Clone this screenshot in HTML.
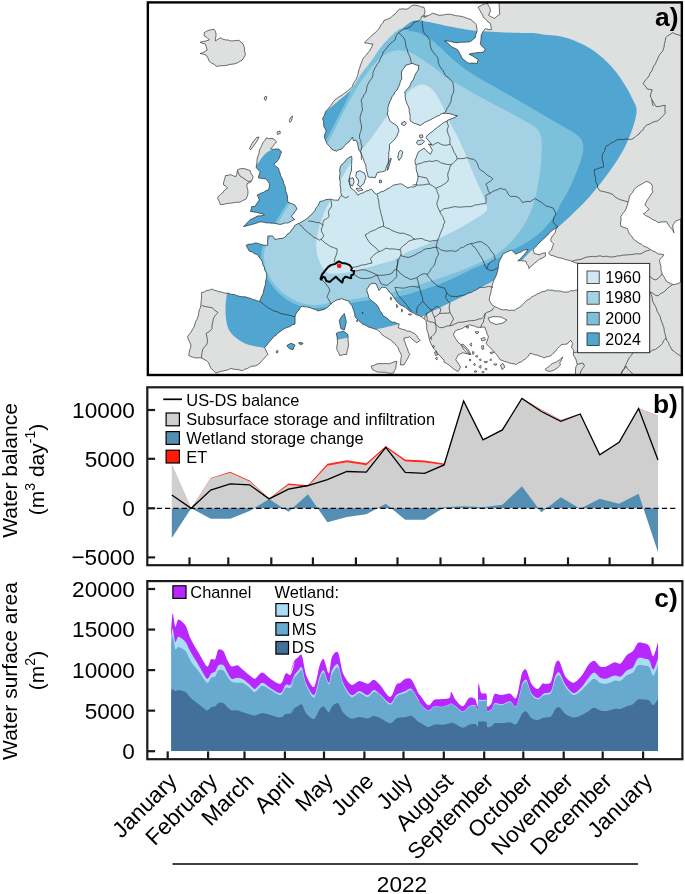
<!DOCTYPE html>
<html lang="en"><head><meta charset="utf-8"><title>Figure</title>
<style>
html,body{margin:0;padding:0;background:#fff;}
svg{display:block;}
text{font-family:"Liberation Sans",sans-serif;fill:#000;}
.tk{font-size:22.6px;}
.lg{font-size:16.4px;}
.pl{font-size:26.4px;font-weight:bold;}
.ax{stroke:#1a1a1a;stroke-width:2.2;fill:none;}
.bd{stroke:#222;stroke-width:0.65;fill:none;stroke-linejoin:round;}
</style></head><body>
<svg width="685" height="894" viewBox="0 0 685 894">
<rect width="685" height="894" fill="#fff"/>

<defs>
<clipPath id="frame"><rect x="148" y="2.4" width="534" height="372.6"/></clipPath>
<clipPath id="bl" clip-rule="evenodd"><path clip-rule="evenodd" d="M575.5,369.1 L576.0,366.6 L577.3,364.4 L576.5,362.1 L576.1,359.7 L574.8,357.2 L573.2,355.0 L573.8,350.4 L571.5,347.4 L572.6,343.4 L570.9,340.4 L568.9,341.9 L567.4,343.9 L564.5,344.3 L561.5,344.5 L559.2,346.9 L556.9,349.2 L555.2,351.6 L552.9,353.4 L551.0,355.6 L548.7,356.5 L546.2,356.9 L544.0,358.0 L541.8,356.6 L539.3,356.1 L537.0,355.0 L534.6,354.8 L532.4,353.8 L530.0,353.3 L528.2,356.2 L525.8,358.6 L523.5,360.2 L521.3,361.8 L518.6,362.7 L516.4,364.5 L514.1,363.8 L511.7,363.6 L509.4,363.0 L507.1,362.1 L504.7,361.5 L502.4,360.5 L500.1,359.8 L498.6,357.3 L496.9,354.9 L494.9,352.8 L493.1,350.5 L491.2,348.8 L489.6,347.0 L487.6,345.4 L486.1,343.4 L487.0,341.1 L487.8,338.8 L488.4,336.4 L487.2,334.2 L486.5,331.8 L485.6,329.5 L484.9,327.1 L482.2,327.1 L479.4,327.4 L476.7,327.1 L474.4,326.1 L472.0,325.5 L469.7,324.7 L467.3,325.8 L464.8,326.7 L462.7,328.3 L460.4,329.1 L458.0,329.7 L455.7,330.6 L453.4,334.1 L454.5,337.1 L456.3,339.6 L458.0,342.3 L460.3,344.2 L462.7,346.2 L465.0,348.1 L466.7,349.9 L468.2,352.0 L469.7,354.0 L466.2,353.6 L462.7,352.8 L460.3,353.8 L458.0,355.1 L456.9,357.5 L455.7,359.8 L457.4,362.1 L458.9,364.4 L460.4,366.8 L459.5,369.3 L458.0,371.5 L455.5,370.2 L453.2,368.6 L451.0,366.8 L448.9,364.9 L446.5,363.5 L444.0,362.1 L444.0,359.8 L442.0,358.3 L440.6,356.2 L438.7,354.6 L437.0,352.8 L435.6,350.3 L433.6,348.3 L432.2,345.9 L430.8,343.4 L429.8,341.0 L429.1,338.6 L428.7,336.0 L428.2,333.5 L427.3,331.1 L426.6,328.5 L426.8,325.8 L426.3,323.2 L426.1,320.5 L423.8,318.8 L421.5,317.0 L419.3,315.6 L416.7,315.0 L414.5,313.5 L412.1,312.3 L409.7,311.2 L407.6,309.4 L405.6,307.6 L403.3,306.3 L400.9,305.2 L398.8,303.6 L396.6,301.4 L394.8,298.8 L393.0,296.3 L391.4,293.9 L389.3,292.0 L387.8,289.5 L385.7,287.5 L382.0,287.0 L379.0,290.5 L377.5,287.0 L376.2,283.9 L372.5,283.2 L369.6,284.6 L368.5,287.0 L366.7,289.0 L367.2,292.0 L368.2,294.8 L368.9,297.7 L370.6,299.8 L372.7,301.6 L374.9,303.2 L376.9,305.0 L378.6,307.4 L379.6,310.3 L381.5,312.6 L382.8,315.3 L385.3,317.1 L387.9,318.8 L390.1,321.1 L392.3,322.2 L394.8,322.2 L397.0,323.4 L399.3,324.1 L398.1,327.6 L400.4,328.6 L402.7,329.4 L405.1,329.9 L407.3,331.2 L410.0,331.2 L412.1,332.6 L414.5,333.4 L416.6,335.6 L418.2,338.2 L420.3,340.4 L416.8,342.7 L414.3,341.0 L412.0,339.0 L409.8,336.9 L406.9,337.5 L403.9,338.1 L404.3,340.9 L405.5,343.5 L406.3,346.2 L407.6,348.9 L408.3,351.8 L409.8,354.4 L408.6,356.5 L407.6,358.7 L406.4,360.8 L405.1,362.8 L403.9,364.9 L400.4,364.9 L400.8,361.8 L400.9,358.7 L401.6,355.6 L400.4,352.9 L398.9,350.3 L398.1,347.4 L396.3,345.7 L394.9,343.6 L393.0,342.0 L391.1,340.4 L388.8,338.9 L386.4,337.6 L384.1,336.1 L381.8,334.6 L380.4,332.3 L378.4,330.6 L376.0,329.4 L373.4,328.5 L370.8,327.7 L368.2,326.9 L365.9,325.2 L363.1,324.4 L360.9,322.6 L358.9,320.7 L356.8,318.9 L355.0,316.7 L354.7,313.7 L353.8,310.8 L352.8,308.0 L351.9,305.6 L350.3,303.7 L349.2,301.4 L346.8,300.4 L344.2,299.7 L341.9,298.5 L339.0,299.5 L336.0,300.2 L333.4,301.9 L331.0,304.0 L329.2,305.9 L327.2,307.6 L325.0,309.0 L322.7,309.9 L320.3,310.3 L318.0,311.0 L315.5,309.5 L312.6,308.8 L310.0,307.5 L307.3,307.0 L304.6,306.9 L302.0,306.0 L300.1,307.8 L298.9,310.2 L297.0,312.0 L295.7,314.4 L295.0,317.0 L295.1,320.6 L295.0,324.1 L292.1,324.9 L289.7,326.7 L286.8,327.6 L284.2,328.7 L281.9,330.2 L279.8,331.9 L277.5,333.4 L276.0,335.4 L273.7,336.6 L272.3,338.7 L270.5,340.4 L268.6,342.8 L266.8,345.2 L264.6,347.4 L265.7,349.8 L266.7,352.2 L268.1,354.4 L265.6,356.6 L263.5,359.1 L261.6,361.1 L259.8,363.2 L257.6,364.9 L255.0,366.1 L252.0,366.1 L249.4,367.3 L247.1,368.6 L244.6,369.3 L242.4,370.8 L239.6,369.9 L236.6,369.4 L233.7,369.2 L230.8,368.4 L228.6,369.6 L226.2,370.3 L223.7,370.8 L220.9,371.4 L218.3,372.2 L215.6,373.1 L213.5,370.5 L210.9,368.4 L209.6,365.6 L208.6,362.6 L206.5,360.7 L204.0,359.4 L201.6,357.9 L198.6,357.8 L195.7,357.9 L193.3,357.4 L190.9,356.6 L188.7,355.6 L189.1,352.9 L189.5,350.3 L190.5,347.7 L191.0,345.1 L189.7,342.4 L188.6,339.7 L187.5,336.9 L189.0,334.5 L190.8,332.4 L192.2,329.9 L193.8,327.4 L194.8,324.8 L195.5,321.9 L196.9,319.4 L197.8,317.1 L198.5,314.8 L198.8,312.3 L199.3,309.9 L200.4,307.7 L200.9,304.6 L201.1,301.5 L201.6,298.4 L201.5,295.4 L201.6,292.5 L204.3,291.9 L206.7,290.4 L209.6,290.1 L212.1,289.0 L214.3,290.3 L216.8,290.8 L219.1,291.8 L221.8,292.1 L224.3,293.1 L227.0,293.1 L229.4,293.4 L231.6,294.5 L234.1,294.5 L236.4,295.4 L239.3,296.3 L242.2,296.8 L245.3,296.8 L248.1,297.8 L250.5,298.2 L252.7,299.5 L255.1,299.9 L257.3,300.9 L259.7,301.3 L260.7,298.5 L261.9,295.7 L263.3,293.1 L263.8,289.9 L264.6,286.9 L265.6,283.8 L265.6,281.0 L266.4,278.3 L266.8,275.6 L266.3,272.8 L264.8,270.2 L264.4,267.4 L262.9,264.8 L262.3,261.8 L260.9,259.2 L259.0,257.0 L257.4,254.6 L254.5,253.8 L252.1,251.9 L249.2,251.1 L247.6,248.2 L246.2,245.2 L249.1,244.1 L252.2,244.1 L255.1,242.9 L258.3,243.4 L261.3,244.6 L264.4,245.2 L267.9,245.2 L267.5,242.1 L267.8,239.0 L267.9,235.9 L272.6,235.9 L274.9,239.4 L277.6,238.9 L280.3,238.5 L283.1,238.2 L285.7,236.6 L287.5,234.0 L290.1,232.4 L291.5,230.0 L293.4,227.9 L294.8,225.4 L297.1,224.1 L299.5,223.2 L301.8,221.9 L304.3,220.4 L306.7,218.7 L308.9,216.8 L311.1,214.9 L313.1,212.7 L315.0,210.4 L316.2,207.7 L318.2,205.5 L320.0,201.3 L322.8,201.0 L325.4,199.8 L328.2,199.3 L330.8,199.2 L333.3,200.0 L335.8,200.1 L338.4,200.3 L339.6,197.5 L341.5,195.2 L340.8,192.5 L340.9,189.7 L340.4,187.0 L340.1,184.5 L340.3,181.9 L339.6,179.4 L339.4,176.8 L340.1,174.3 L339.8,171.7 L339.8,169.1 L340.4,166.6 L342.3,164.0 L344.7,162.0 L346.6,159.4 L349.0,157.5 L351.7,156.3 L352.0,159.0 L351.7,161.8 L351.7,164.5 L351.5,167.2 L351.5,170.0 L350.7,172.7 L349.9,175.4 L349.4,178.2 L348.6,180.9 L349.5,183.2 L350.1,185.6 L350.7,188.0 L353.4,189.9 L355.8,192.1 L357.8,195.2 L360.4,193.6 L363.4,192.7 L366.0,191.1 L368.7,190.5 L371.1,189.0 L372.9,190.7 L374.2,192.7 L376.2,194.2 L378.6,193.3 L380.7,191.9 L383.2,191.4 L385.4,190.1 L387.5,188.8 L389.7,187.9 L391.6,186.4 L393.6,185.0 L396.3,184.7 L399.0,183.9 L401.7,183.9 L403.7,185.3 L405.8,186.7 L407.9,188.0 L410.5,186.9 L413.4,187.0 L416.1,186.0 L416.5,182.9 L417.6,179.9 L418.1,176.8 L417.6,174.0 L416.6,171.4 L416.1,168.6 L416.2,165.8 L415.2,163.2 L415.0,160.4 L416.2,157.8 L417.1,155.0 L418.1,152.3 L420.1,150.9 L422.1,149.4 L424.2,148.2 L426.0,150.5 L428.2,152.4 L430.4,154.3 L432.4,150.2 L431.1,148.1 L430.0,145.9 L428.3,144.1 L431.8,144.5 L428.8,141.0 L426.0,137.5 L427.8,135.0 L430.0,133.0 L432.7,131.5 L434.8,129.3 L437.4,127.4 L440.0,125.5 L441.9,124.0 L443.8,122.5 L446.0,121.5 L448.9,119.8 L452.0,118.5 L454.9,117.4 L457.5,115.7 L454.9,115.4 L452.5,114.4 L450.0,113.8 L446.7,113.4 L443.4,113.1 L441.1,113.9 L439.2,115.6 L436.8,116.2 L434.7,117.4 L432.3,118.7 L429.9,120.0 L427.4,121.1 L424.8,122.4 L422.5,123.9 L420.1,125.5 L417.2,124.2 L414.2,123.3 L410.6,121.1 L410.0,118.7 L410.1,116.2 L409.9,113.8 L409.2,111.4 L409.2,108.9 L408.4,106.5 L407.1,104.2 L406.3,101.7 L405.5,99.2 L405.2,96.8 L405.2,94.3 L404.7,91.9 L406.5,90.0 L408.3,88.1 L409.9,86.1 L410.6,83.7 L411.9,81.6 L413.3,79.6 L414.2,77.3 L415.2,74.7 L416.6,72.2 L418.3,70.0 L418.8,65.4 L416.3,65.1 L414.0,64.0 L411.6,63.4 L408.6,64.4 L405.5,65.4 L404.4,67.7 L402.6,69.7 L401.5,72.0 L401.5,75.4 L401.8,78.8 L400.3,81.6 L399.6,84.7 L398.2,87.5 L397.1,89.9 L395.2,91.9 L394.0,94.3 L392.3,96.3 L391.1,99.2 L389.6,102.0 L388.7,105.0 L387.8,107.9 L388.1,110.9 L387.2,113.8 L388.2,116.2 L389.0,118.7 L390.1,121.1 L392.2,122.8 L394.5,124.0 L396.7,125.5 L398.2,128.3 L398.9,131.3 L397.7,133.7 L396.8,136.3 L395.3,138.6 L393.3,140.5 L391.4,142.6 L389.4,144.5 L389.5,148.2 L389.2,150.6 L388.7,153.0 L388.9,155.5 L388.5,157.9 L388.5,160.4 L388.1,163.1 L386.9,165.5 L386.0,168.1 L385.4,170.7 L382.8,171.7 L379.9,172.0 L377.2,172.7 L376.2,175.2 L375.2,177.8 L372.8,177.2 L370.4,177.4 L368.0,176.8 L367.7,174.2 L366.9,171.7 L366.2,169.2 L366.0,166.6 L365.5,164.1 L364.2,161.9 L363.6,159.4 L362.6,157.1 L361.6,154.7 L360.9,152.3 L358.8,150.1 L358.1,146.6 L357.6,143.1 L355.9,140.1 L353.5,140.7 L352.4,137.2 L350.7,139.6 L348.9,141.9 L346.7,143.6 L344.7,145.5 L343.0,147.7 L341.1,149.2 L338.6,149.8 L336.6,151.2 L333.9,150.3 L331.4,148.9 L330.1,146.8 L328.2,145.1 L326.7,143.1 L325.5,140.2 L324.3,137.2 L324.8,134.2 L326.1,131.4 L325.3,128.9 L323.8,126.7 L323.7,123.9 L323.4,121.2 L322.6,118.5 L323.8,116.3 L324.9,114.0 L325.5,111.5 L327.6,109.4 L329.4,107.0 L331.4,104.8 L332.9,102.2 L335.0,99.8 L337.5,97.9 L340.1,96.1 L342.5,94.9 L344.4,93.0 L346.8,91.7 L348.8,89.8 L351.0,88.3 L352.6,86.3 L353.1,83.7 L354.5,81.6 L356.0,79.5 L357.1,77.1 L357.9,74.6 L358.3,72.0 L359.0,69.5 L360.0,67.0 L360.7,64.4 L361.9,61.9 L362.6,59.3 L364.2,57.1 L366.2,55.2 L367.6,52.9 L369.7,51.1 L370.7,48.7 L372.0,46.4 L372.8,43.9 L370.0,43.9 L367.3,43.2 L364.6,42.9 L366.4,40.6 L368.6,38.7 L370.7,36.8 L372.6,34.6 L375.0,32.9 L377.0,30.8 L378.9,28.6 L380.2,26.6 L381.3,24.4 L383.0,22.6 L384.0,20.4 L386.5,19.6 L388.9,18.6 L391.2,17.4 L393.1,15.2 L395.6,13.6 L397.3,11.2 L399.4,9.2 L402.9,8.9 L406.5,9.2 L409.0,8.1 L411.1,6.1 L413.7,5.1 L418.0,5.5 L420.8,6.8 L423.9,7.2 L424.7,9.5 L425.0,12.0 L424.1,14.6 L424.0,17.4 L427.0,16.0 L429.8,14.9 L432.3,13.3 L435.0,13.8 L437.6,15.0 L440.4,15.3 L443.0,15.0 L445.5,14.4 L448.1,14.3 L450.7,14.3 L453.2,15.0 L455.7,15.7 L458.3,15.9 L460.9,16.3 L463.5,16.9 L466.0,17.9 L468.5,18.8 L471.1,19.4 L472.5,21.4 L474.6,22.7 L476.2,24.5 L476.7,27.6 L477.2,30.7 L476.3,33.0 L475.6,35.4 L475.2,37.8 L473.2,39.3 L471.3,40.9 L469.0,41.9 L466.6,42.1 L464.1,42.2 L461.7,42.2 L459.2,42.4 L456.8,42.9 L454.4,42.4 L451.9,41.9 L449.5,41.3 L447.0,40.9 L444.5,40.9 L446.8,42.3 L448.8,44.1 L450.7,46.0 L452.9,47.6 L455.6,48.5 L457.8,50.1 L459.3,52.7 L460.8,55.3 L461.9,58.2 L464.2,60.0 L466.5,61.9 L469.0,63.4 L471.7,63.0 L474.5,63.3 L477.2,63.4 L478.2,59.3 L475.5,58.0 L473.1,56.2 L469.0,54.2 L472.0,53.3 L475.2,53.1 L477.9,52.5 L480.7,52.4 L483.4,52.1 L485.4,49.0 L483.4,47.6 L481.7,45.9 L480.3,43.9 L480.9,40.9 L481.0,37.8 L481.3,34.7 L482.5,32.5 L483.8,30.5 L485.4,28.6 L488.4,29.5 L491.5,29.6 L491.0,26.5 L490.5,23.5 L487.9,21.8 L485.8,19.4 L483.4,17.4 L482.5,14.7 L480.9,12.2 L479.5,9.7 L478.2,7.2 L480.6,5.8 L483.0,4.5 L487.4,3.0 L488.3,5.5 L489.8,7.7 L490.5,10.2 L489.8,12.9 L488.5,15.3 L491.5,16.9 L494.6,18.4 L497.0,16.2 L499.7,14.3 L499,2 L683,2 L683,376 L575.5,376 Z M266.4,137.8 L268.7,138.5 L271.2,138.6 L273.6,138.8 L276.6,141.9 L274.5,144.2 L272.6,146.7 L270.5,149.0 L273.2,149.3 L276.0,149.0 L278.7,149.0 L281.7,152.1 L280.4,154.4 L279.7,156.9 L278.7,159.3 L277.2,161.2 L275.5,162.9 L273.6,164.4 L276.2,166.4 L278.7,168.5 L279.1,170.9 L280.1,173.1 L280.6,175.5 L281.7,177.7 L283.0,180.3 L283.6,183.2 L284.8,185.8 L285.6,188.5 L285.8,191.4 L286.9,194.0 L287.5,196.7 L287.6,199.5 L287.9,202.2 L290.3,203.1 L292.7,204.1 L295.0,205.2 L297.1,209.0 L295.1,211.3 L293.4,213.8 L291.3,216.0 L292.8,218.0 L294.8,219.5 L292.4,220.5 L290.1,221.8 L287.8,223.0 L284.6,223.0 L281.6,224.2 L278.4,224.2 L275.4,223.4 L272.2,223.2 L269.1,223.0 L265.9,222.8 L262.9,222.1 L259.7,221.9 L257.4,222.8 L255.1,223.6 L252.7,224.2 L249.6,225.0 L246.6,225.9 L243.4,226.5 L245.3,224.9 L246.9,223.0 L248.6,221.2 L250.4,219.5 L252.8,218.5 L255.2,217.3 L257.4,216.0 L261.0,215.8 L264.4,214.9 L262.2,213.7 L259.7,213.3 L257.4,212.5 L253.9,212.0 L250.4,211.4 L251.2,209.1 L251.6,206.7 L255.2,206.3 L256.4,204.1 L257.9,202.1 L259.3,200.1 L258.4,197.5 L257.2,195.0 L261.3,193.0 L263.8,192.2 L266.0,190.6 L268.5,189.9 L269.4,186.9 L269.5,183.8 L267.7,181.1 L265.4,178.7 L263.0,178.6 L260.6,178.3 L258.2,177.7 L259.2,174.6 L260.3,171.5 L258.0,169.7 L256.2,167.4 L256.6,164.3 L257.0,161.3 L257.2,158.2 L258.0,155.9 L259.0,153.6 L259.3,151.1 L260.2,148.6 L261.4,146.4 L262.3,143.9 L263.6,141.8 L265.2,140.0Z M344.4,313.5 L346.3,321.7 L344.4,329.9 L340.9,328.7 L339.2,320.5 L342.0,315.9Z M336.2,333.4 L338.4,332.3 L340.9,331.9 L343.2,331.1 L345.7,332.6 L347.9,334.6 L348.1,337.2 L348.0,339.9 L348.4,342.5 L348.6,345.1 L348.0,348.2 L347.1,351.2 L346.7,354.4 L343.2,354.7 L339.7,355.6 L338.5,352.5 L336.9,349.7 L336.7,346.6 L337.5,343.5 L337.4,340.4 L337.1,336.9Z M286.8,345.5 L291.0,343.2 L295.0,345.0 L293.0,349.7 L289.0,348.5Z M298.5,343.0 L301.0,342.3 L303.2,343.6 L300.5,344.8Z M356.5,172.0 L360.0,170.7 L362.2,172.0 L364.5,173.0 L365.3,175.5 L366.0,178.0 L364.7,180.7 L364.0,183.5 L362.0,185.0 L360.5,187.0 L357.5,185.0 L358.4,182.6 L358.5,180.0 L355.8,176.5Z M349.5,178.5 L353.0,177.8 L354.2,182.0 L352.5,185.8 L349.8,184.5Z M356.0,188.5 L361.0,188.0 L363.0,190.0 L358.0,191.2Z M400.5,150.2 L402.8,152.0 L401.5,157.0 L399.0,160.4 L397.7,157.0 L398.8,152.5Z M390.5,158.0 L391.3,158.5 L388.2,169.0 L387.2,170.5 L388.3,164.0Z M379.3,180.0 L381.3,180.2 L381.5,182.5 L379.6,182.8Z M417.5,140.8 L422.0,139.8 L424.5,141.5 L422.0,144.0 L418.5,144.8 L416.5,143.0Z M419.5,135.2 L422.5,134.8 L423.0,137.3 L420.0,138.0Z M402.0,122.5 L405.0,121.5 L406.5,123.5 L404.0,125.5 L401.5,124.5Z M506.6,252.1 L509.1,251.0 L511.7,250.1 L513.7,252.2 L515.8,254.2 L518.5,252.8 L521.4,251.8 L523.9,250.1 L528.0,249.5 L526.2,252.3 L523.9,254.8 L521.9,256.9 L520.1,259.1 L517.8,260.9 L520.6,260.6 L523.3,260.9 L526.0,261.3 L526.7,263.8 L528.4,265.9 L529.0,268.5 L530.5,266.5 L532.6,265.2 L534.2,263.4 L536.9,261.5 L539.3,259.3 L542.5,258.0 L545.4,256.2 L545.4,252.7 L542.2,253.4 L539.3,254.8 L536.8,254.1 L534.2,253.5 L533.1,249.0 L535.4,247.3 L537.2,245.0 L539.3,242.9 L541.3,240.9 L543.5,239.0 L545.5,236.9 L547.7,235.0 L549.5,232.7 L551.5,231.1 L553.4,229.4 L555.7,228.2 L557.7,226.6 L556.0,229.1 L555.3,232.2 L553.6,234.7 L551.8,237.1 L550.5,239.9 L551.8,242.1 L553.6,243.9 L552.4,246.9 L551.5,250.1 L548.5,252.7 L550.5,255.2 L553.4,255.8 L556.1,256.8 L558.9,257.8 L561.8,258.2 L564.3,259.1 L566.8,259.9 L569.5,260.4 L572.0,261.3 L574.9,262.7 L578.1,263.4 L580.6,264.1 L582.8,265.5 L585.1,266.5 L587.5,267.5 L590.0,268.0 L592.3,269.3 L594.0,271.2 L596.2,272.6 L598.1,274.2 L600.0,276.0 L601.6,277.9 L603.3,279.8 L604.7,281.9 L606.0,284.0 L604.1,285.8 L602.2,287.5 L600.0,289.0 L597.5,289.7 L595.0,290.0 L592.5,290.2 L590.0,290.5 L587.0,290.3 L584.0,290.3 L581.1,290.0 L578.1,289.9 L575.6,290.2 L573.2,290.9 L570.6,290.7 L568.3,292.0 L565.8,292.0 L563.1,292.0 L560.4,291.0 L557.7,290.9 L555.1,291.0 L552.6,290.1 L550.0,290.2 L547.4,289.9 L545.0,291.3 L542.2,291.7 L539.7,293.0 L537.2,294.0 L534.6,295.5 L531.9,296.8 L529.7,298.9 L527.0,300.1 L525.0,302.2 L523.0,304.3 L520.9,306.3 L518.8,307.7 L516.6,308.7 L514.7,310.4 L511.8,310.1 L508.9,310.4 L506.1,309.6 L503.2,309.9 L500.4,309.3 L497.7,307.9 L494.9,306.7 L492.3,305.2 L490.7,302.7 L489.2,300.1 L489.5,297.5 L490.1,295.0 L491.0,292.5 L491.2,289.9 L491.9,287.2 L492.4,284.4 L493.3,281.8 L494.3,279.2 L495.6,276.8 L496.6,274.2 L497.4,271.5 L498.0,269.0 L498.5,266.4 L498.6,263.8 L499.4,261.3 L500.5,258.9 L501.8,256.7 L502.5,254.2Z M488.0,318.0 L494.0,316.5 L501.0,317.0 L507.0,320.0 L503.0,323.0 L496.0,324.5 L490.0,322.0Z M646.3,181.4 L649.0,182.3 L651.4,183.9 L652.3,186.5 L652.1,189.3 L652.9,191.9 L651.1,194.3 L649.6,196.8 L647.8,199.2 L646.2,202.0 L644.9,205.0 L646.9,207.3 L649.2,209.4 L647.1,210.7 L645.5,212.5 L643.4,213.8 L645.6,215.6 L648.3,216.7 L650.7,218.2 L653.0,219.8 L655.8,220.8 L658.0,222.6 L660.9,222.0 L663.8,221.8 L666.8,221.8 L668.0,224.1 L669.3,226.4 L671.1,228.4 L672.9,230.4 L674.0,232.8 L673.4,230.4 L672.9,228.0 L672.6,225.5 L674.1,223.3 L675.5,221.1 L678.1,220.2 L680.6,218.9 L680.6,282.4 L678.0,283.5 L675.4,284.3 L672.6,284.6 L670.5,283.3 L668.1,282.3 L666.0,280.9 L665.0,278.7 L663.8,276.5 L662.4,274.5 L661.6,272.2 L660.9,269.3 L660.9,266.3 L660.1,263.4 L659.5,260.5 L660.7,258.4 L662.6,256.8 L663.8,254.7 L660.9,254.1 L658.0,253.9 L655.8,252.1 L653.1,251.2 L650.7,249.6 L648.4,248.2 L646.0,246.9 L643.4,245.9 L641.3,244.2 L639.0,243.1 L636.8,241.6 L634.6,240.1 L632.8,238.2 L631.5,235.9 L629.5,234.2 L628.4,231.3 L627.3,228.4 L624.0,227.5 L620.8,226.2 L620.4,223.0 L621.1,219.9 L620.8,216.7 L622.1,214.7 L623.4,212.6 L625.1,210.9 L626.4,208.1 L627.4,205.1 L628.1,202.1 L628.9,199.7 L629.2,197.1 L630.3,194.8 L632.5,192.5 L634.0,189.8 L636.1,187.5 L638.4,185.8 L641.0,184.5 L643.4,183.1Z"/></clipPath>
</defs>
<g clip-path="url(#frame)">
<path d="M575.5,369.1 L576.0,366.6 L577.3,364.4 L576.5,362.1 L576.1,359.7 L574.8,357.2 L573.2,355.0 L573.8,350.4 L571.5,347.4 L572.6,343.4 L570.9,340.4 L568.9,341.9 L567.4,343.9 L564.5,344.3 L561.5,344.5 L559.2,346.9 L556.9,349.2 L555.2,351.6 L552.9,353.4 L551.0,355.6 L548.7,356.5 L546.2,356.9 L544.0,358.0 L541.8,356.6 L539.3,356.1 L537.0,355.0 L534.6,354.8 L532.4,353.8 L530.0,353.3 L528.2,356.2 L525.8,358.6 L523.5,360.2 L521.3,361.8 L518.6,362.7 L516.4,364.5 L514.1,363.8 L511.7,363.6 L509.4,363.0 L507.1,362.1 L504.7,361.5 L502.4,360.5 L500.1,359.8 L498.6,357.3 L496.9,354.9 L494.9,352.8 L493.1,350.5 L491.2,348.8 L489.6,347.0 L487.6,345.4 L486.1,343.4 L487.0,341.1 L487.8,338.8 L488.4,336.4 L487.2,334.2 L486.5,331.8 L485.6,329.5 L484.9,327.1 L482.2,327.1 L479.4,327.4 L476.7,327.1 L474.4,326.1 L472.0,325.5 L469.7,324.7 L467.3,325.8 L464.8,326.7 L462.7,328.3 L460.4,329.1 L458.0,329.7 L455.7,330.6 L453.4,334.1 L454.5,337.1 L456.3,339.6 L458.0,342.3 L460.3,344.2 L462.7,346.2 L465.0,348.1 L466.7,349.9 L468.2,352.0 L469.7,354.0 L466.2,353.6 L462.7,352.8 L460.3,353.8 L458.0,355.1 L456.9,357.5 L455.7,359.8 L457.4,362.1 L458.9,364.4 L460.4,366.8 L459.5,369.3 L458.0,371.5 L455.5,370.2 L453.2,368.6 L451.0,366.8 L448.9,364.9 L446.5,363.5 L444.0,362.1 L444.0,359.8 L442.0,358.3 L440.6,356.2 L438.7,354.6 L437.0,352.8 L435.6,350.3 L433.6,348.3 L432.2,345.9 L430.8,343.4 L429.8,341.0 L429.1,338.6 L428.7,336.0 L428.2,333.5 L427.3,331.1 L426.6,328.5 L426.8,325.8 L426.3,323.2 L426.1,320.5 L423.8,318.8 L421.5,317.0 L419.3,315.6 L416.7,315.0 L414.5,313.5 L412.1,312.3 L409.7,311.2 L407.6,309.4 L405.6,307.6 L403.3,306.3 L400.9,305.2 L398.8,303.6 L396.6,301.4 L394.8,298.8 L393.0,296.3 L391.4,293.9 L389.3,292.0 L387.8,289.5 L385.7,287.5 L382.0,287.0 L379.0,290.5 L377.5,287.0 L376.2,283.9 L372.5,283.2 L369.6,284.6 L368.5,287.0 L366.7,289.0 L367.2,292.0 L368.2,294.8 L368.9,297.7 L370.6,299.8 L372.7,301.6 L374.9,303.2 L376.9,305.0 L378.6,307.4 L379.6,310.3 L381.5,312.6 L382.8,315.3 L385.3,317.1 L387.9,318.8 L390.1,321.1 L392.3,322.2 L394.8,322.2 L397.0,323.4 L399.3,324.1 L398.1,327.6 L400.4,328.6 L402.7,329.4 L405.1,329.9 L407.3,331.2 L410.0,331.2 L412.1,332.6 L414.5,333.4 L416.6,335.6 L418.2,338.2 L420.3,340.4 L416.8,342.7 L414.3,341.0 L412.0,339.0 L409.8,336.9 L406.9,337.5 L403.9,338.1 L404.3,340.9 L405.5,343.5 L406.3,346.2 L407.6,348.9 L408.3,351.8 L409.8,354.4 L408.6,356.5 L407.6,358.7 L406.4,360.8 L405.1,362.8 L403.9,364.9 L400.4,364.9 L400.8,361.8 L400.9,358.7 L401.6,355.6 L400.4,352.9 L398.9,350.3 L398.1,347.4 L396.3,345.7 L394.9,343.6 L393.0,342.0 L391.1,340.4 L388.8,338.9 L386.4,337.6 L384.1,336.1 L381.8,334.6 L380.4,332.3 L378.4,330.6 L376.0,329.4 L373.4,328.5 L370.8,327.7 L368.2,326.9 L365.9,325.2 L363.1,324.4 L360.9,322.6 L358.9,320.7 L356.8,318.9 L355.0,316.7 L354.7,313.7 L353.8,310.8 L352.8,308.0 L351.9,305.6 L350.3,303.7 L349.2,301.4 L346.8,300.4 L344.2,299.7 L341.9,298.5 L339.0,299.5 L336.0,300.2 L333.4,301.9 L331.0,304.0 L329.2,305.9 L327.2,307.6 L325.0,309.0 L322.7,309.9 L320.3,310.3 L318.0,311.0 L315.5,309.5 L312.6,308.8 L310.0,307.5 L307.3,307.0 L304.6,306.9 L302.0,306.0 L300.1,307.8 L298.9,310.2 L297.0,312.0 L295.7,314.4 L295.0,317.0 L295.1,320.6 L295.0,324.1 L292.1,324.9 L289.7,326.7 L286.8,327.6 L284.2,328.7 L281.9,330.2 L279.8,331.9 L277.5,333.4 L276.0,335.4 L273.7,336.6 L272.3,338.7 L270.5,340.4 L268.6,342.8 L266.8,345.2 L264.6,347.4 L265.7,349.8 L266.7,352.2 L268.1,354.4 L265.6,356.6 L263.5,359.1 L261.6,361.1 L259.8,363.2 L257.6,364.9 L255.0,366.1 L252.0,366.1 L249.4,367.3 L247.1,368.6 L244.6,369.3 L242.4,370.8 L239.6,369.9 L236.6,369.4 L233.7,369.2 L230.8,368.4 L228.6,369.6 L226.2,370.3 L223.7,370.8 L220.9,371.4 L218.3,372.2 L215.6,373.1 L213.5,370.5 L210.9,368.4 L209.6,365.6 L208.6,362.6 L206.5,360.7 L204.0,359.4 L201.6,357.9 L198.6,357.8 L195.7,357.9 L193.3,357.4 L190.9,356.6 L188.7,355.6 L189.1,352.9 L189.5,350.3 L190.5,347.7 L191.0,345.1 L189.7,342.4 L188.6,339.7 L187.5,336.9 L189.0,334.5 L190.8,332.4 L192.2,329.9 L193.8,327.4 L194.8,324.8 L195.5,321.9 L196.9,319.4 L197.8,317.1 L198.5,314.8 L198.8,312.3 L199.3,309.9 L200.4,307.7 L200.9,304.6 L201.1,301.5 L201.6,298.4 L201.5,295.4 L201.6,292.5 L204.3,291.9 L206.7,290.4 L209.6,290.1 L212.1,289.0 L214.3,290.3 L216.8,290.8 L219.1,291.8 L221.8,292.1 L224.3,293.1 L227.0,293.1 L229.4,293.4 L231.6,294.5 L234.1,294.5 L236.4,295.4 L239.3,296.3 L242.2,296.8 L245.3,296.8 L248.1,297.8 L250.5,298.2 L252.7,299.5 L255.1,299.9 L257.3,300.9 L259.7,301.3 L260.7,298.5 L261.9,295.7 L263.3,293.1 L263.8,289.9 L264.6,286.9 L265.6,283.8 L265.6,281.0 L266.4,278.3 L266.8,275.6 L266.3,272.8 L264.8,270.2 L264.4,267.4 L262.9,264.8 L262.3,261.8 L260.9,259.2 L259.0,257.0 L257.4,254.6 L254.5,253.8 L252.1,251.9 L249.2,251.1 L247.6,248.2 L246.2,245.2 L249.1,244.1 L252.2,244.1 L255.1,242.9 L258.3,243.4 L261.3,244.6 L264.4,245.2 L267.9,245.2 L267.5,242.1 L267.8,239.0 L267.9,235.9 L272.6,235.9 L274.9,239.4 L277.6,238.9 L280.3,238.5 L283.1,238.2 L285.7,236.6 L287.5,234.0 L290.1,232.4 L291.5,230.0 L293.4,227.9 L294.8,225.4 L297.1,224.1 L299.5,223.2 L301.8,221.9 L304.3,220.4 L306.7,218.7 L308.9,216.8 L311.1,214.9 L313.1,212.7 L315.0,210.4 L316.2,207.7 L318.2,205.5 L320.0,201.3 L322.8,201.0 L325.4,199.8 L328.2,199.3 L330.8,199.2 L333.3,200.0 L335.8,200.1 L338.4,200.3 L339.6,197.5 L341.5,195.2 L340.8,192.5 L340.9,189.7 L340.4,187.0 L340.1,184.5 L340.3,181.9 L339.6,179.4 L339.4,176.8 L340.1,174.3 L339.8,171.7 L339.8,169.1 L340.4,166.6 L342.3,164.0 L344.7,162.0 L346.6,159.4 L349.0,157.5 L351.7,156.3 L352.0,159.0 L351.7,161.8 L351.7,164.5 L351.5,167.2 L351.5,170.0 L350.7,172.7 L349.9,175.4 L349.4,178.2 L348.6,180.9 L349.5,183.2 L350.1,185.6 L350.7,188.0 L353.4,189.9 L355.8,192.1 L357.8,195.2 L360.4,193.6 L363.4,192.7 L366.0,191.1 L368.7,190.5 L371.1,189.0 L372.9,190.7 L374.2,192.7 L376.2,194.2 L378.6,193.3 L380.7,191.9 L383.2,191.4 L385.4,190.1 L387.5,188.8 L389.7,187.9 L391.6,186.4 L393.6,185.0 L396.3,184.7 L399.0,183.9 L401.7,183.9 L403.7,185.3 L405.8,186.7 L407.9,188.0 L410.5,186.9 L413.4,187.0 L416.1,186.0 L416.5,182.9 L417.6,179.9 L418.1,176.8 L417.6,174.0 L416.6,171.4 L416.1,168.6 L416.2,165.8 L415.2,163.2 L415.0,160.4 L416.2,157.8 L417.1,155.0 L418.1,152.3 L420.1,150.9 L422.1,149.4 L424.2,148.2 L426.0,150.5 L428.2,152.4 L430.4,154.3 L432.4,150.2 L431.1,148.1 L430.0,145.9 L428.3,144.1 L431.8,144.5 L428.8,141.0 L426.0,137.5 L427.8,135.0 L430.0,133.0 L432.7,131.5 L434.8,129.3 L437.4,127.4 L440.0,125.5 L441.9,124.0 L443.8,122.5 L446.0,121.5 L448.9,119.8 L452.0,118.5 L454.9,117.4 L457.5,115.7 L454.9,115.4 L452.5,114.4 L450.0,113.8 L446.7,113.4 L443.4,113.1 L441.1,113.9 L439.2,115.6 L436.8,116.2 L434.7,117.4 L432.3,118.7 L429.9,120.0 L427.4,121.1 L424.8,122.4 L422.5,123.9 L420.1,125.5 L417.2,124.2 L414.2,123.3 L410.6,121.1 L410.0,118.7 L410.1,116.2 L409.9,113.8 L409.2,111.4 L409.2,108.9 L408.4,106.5 L407.1,104.2 L406.3,101.7 L405.5,99.2 L405.2,96.8 L405.2,94.3 L404.7,91.9 L406.5,90.0 L408.3,88.1 L409.9,86.1 L410.6,83.7 L411.9,81.6 L413.3,79.6 L414.2,77.3 L415.2,74.7 L416.6,72.2 L418.3,70.0 L418.8,65.4 L416.3,65.1 L414.0,64.0 L411.6,63.4 L408.6,64.4 L405.5,65.4 L404.4,67.7 L402.6,69.7 L401.5,72.0 L401.5,75.4 L401.8,78.8 L400.3,81.6 L399.6,84.7 L398.2,87.5 L397.1,89.9 L395.2,91.9 L394.0,94.3 L392.3,96.3 L391.1,99.2 L389.6,102.0 L388.7,105.0 L387.8,107.9 L388.1,110.9 L387.2,113.8 L388.2,116.2 L389.0,118.7 L390.1,121.1 L392.2,122.8 L394.5,124.0 L396.7,125.5 L398.2,128.3 L398.9,131.3 L397.7,133.7 L396.8,136.3 L395.3,138.6 L393.3,140.5 L391.4,142.6 L389.4,144.5 L389.5,148.2 L389.2,150.6 L388.7,153.0 L388.9,155.5 L388.5,157.9 L388.5,160.4 L388.1,163.1 L386.9,165.5 L386.0,168.1 L385.4,170.7 L382.8,171.7 L379.9,172.0 L377.2,172.7 L376.2,175.2 L375.2,177.8 L372.8,177.2 L370.4,177.4 L368.0,176.8 L367.7,174.2 L366.9,171.7 L366.2,169.2 L366.0,166.6 L365.5,164.1 L364.2,161.9 L363.6,159.4 L362.6,157.1 L361.6,154.7 L360.9,152.3 L358.8,150.1 L358.1,146.6 L357.6,143.1 L355.9,140.1 L353.5,140.7 L352.4,137.2 L350.7,139.6 L348.9,141.9 L346.7,143.6 L344.7,145.5 L343.0,147.7 L341.1,149.2 L338.6,149.8 L336.6,151.2 L333.9,150.3 L331.4,148.9 L330.1,146.8 L328.2,145.1 L326.7,143.1 L325.5,140.2 L324.3,137.2 L324.8,134.2 L326.1,131.4 L325.3,128.9 L323.8,126.7 L323.7,123.9 L323.4,121.2 L322.6,118.5 L323.8,116.3 L324.9,114.0 L325.5,111.5 L327.6,109.4 L329.4,107.0 L331.4,104.8 L332.9,102.2 L335.0,99.8 L337.5,97.9 L340.1,96.1 L342.5,94.9 L344.4,93.0 L346.8,91.7 L348.8,89.8 L351.0,88.3 L352.6,86.3 L353.1,83.7 L354.5,81.6 L356.0,79.5 L357.1,77.1 L357.9,74.6 L358.3,72.0 L359.0,69.5 L360.0,67.0 L360.7,64.4 L361.9,61.9 L362.6,59.3 L364.2,57.1 L366.2,55.2 L367.6,52.9 L369.7,51.1 L370.7,48.7 L372.0,46.4 L372.8,43.9 L370.0,43.9 L367.3,43.2 L364.6,42.9 L366.4,40.6 L368.6,38.7 L370.7,36.8 L372.6,34.6 L375.0,32.9 L377.0,30.8 L378.9,28.6 L380.2,26.6 L381.3,24.4 L383.0,22.6 L384.0,20.4 L386.5,19.6 L388.9,18.6 L391.2,17.4 L393.1,15.2 L395.6,13.6 L397.3,11.2 L399.4,9.2 L402.9,8.9 L406.5,9.2 L409.0,8.1 L411.1,6.1 L413.7,5.1 L418.0,5.5 L420.8,6.8 L423.9,7.2 L424.7,9.5 L425.0,12.0 L424.1,14.6 L424.0,17.4 L427.0,16.0 L429.8,14.9 L432.3,13.3 L435.0,13.8 L437.6,15.0 L440.4,15.3 L443.0,15.0 L445.5,14.4 L448.1,14.3 L450.7,14.3 L453.2,15.0 L455.7,15.7 L458.3,15.9 L460.9,16.3 L463.5,16.9 L466.0,17.9 L468.5,18.8 L471.1,19.4 L472.5,21.4 L474.6,22.7 L476.2,24.5 L476.7,27.6 L477.2,30.7 L476.3,33.0 L475.6,35.4 L475.2,37.8 L473.2,39.3 L471.3,40.9 L469.0,41.9 L466.6,42.1 L464.1,42.2 L461.7,42.2 L459.2,42.4 L456.8,42.9 L454.4,42.4 L451.9,41.9 L449.5,41.3 L447.0,40.9 L444.5,40.9 L446.8,42.3 L448.8,44.1 L450.7,46.0 L452.9,47.6 L455.6,48.5 L457.8,50.1 L459.3,52.7 L460.8,55.3 L461.9,58.2 L464.2,60.0 L466.5,61.9 L469.0,63.4 L471.7,63.0 L474.5,63.3 L477.2,63.4 L478.2,59.3 L475.5,58.0 L473.1,56.2 L469.0,54.2 L472.0,53.3 L475.2,53.1 L477.9,52.5 L480.7,52.4 L483.4,52.1 L485.4,49.0 L483.4,47.6 L481.7,45.9 L480.3,43.9 L480.9,40.9 L481.0,37.8 L481.3,34.7 L482.5,32.5 L483.8,30.5 L485.4,28.6 L488.4,29.5 L491.5,29.6 L491.0,26.5 L490.5,23.5 L487.9,21.8 L485.8,19.4 L483.4,17.4 L482.5,14.7 L480.9,12.2 L479.5,9.7 L478.2,7.2 L480.6,5.8 L483.0,4.5 L487.4,3.0 L488.3,5.5 L489.8,7.7 L490.5,10.2 L489.8,12.9 L488.5,15.3 L491.5,16.9 L494.6,18.4 L497.0,16.2 L499.7,14.3 L499,2 L683,2 L683,376 L575.5,376 Z M266.4,137.8 L268.7,138.5 L271.2,138.6 L273.6,138.8 L276.6,141.9 L274.5,144.2 L272.6,146.7 L270.5,149.0 L273.2,149.3 L276.0,149.0 L278.7,149.0 L281.7,152.1 L280.4,154.4 L279.7,156.9 L278.7,159.3 L277.2,161.2 L275.5,162.9 L273.6,164.4 L276.2,166.4 L278.7,168.5 L279.1,170.9 L280.1,173.1 L280.6,175.5 L281.7,177.7 L283.0,180.3 L283.6,183.2 L284.8,185.8 L285.6,188.5 L285.8,191.4 L286.9,194.0 L287.5,196.7 L287.6,199.5 L287.9,202.2 L290.3,203.1 L292.7,204.1 L295.0,205.2 L297.1,209.0 L295.1,211.3 L293.4,213.8 L291.3,216.0 L292.8,218.0 L294.8,219.5 L292.4,220.5 L290.1,221.8 L287.8,223.0 L284.6,223.0 L281.6,224.2 L278.4,224.2 L275.4,223.4 L272.2,223.2 L269.1,223.0 L265.9,222.8 L262.9,222.1 L259.7,221.9 L257.4,222.8 L255.1,223.6 L252.7,224.2 L249.6,225.0 L246.6,225.9 L243.4,226.5 L245.3,224.9 L246.9,223.0 L248.6,221.2 L250.4,219.5 L252.8,218.5 L255.2,217.3 L257.4,216.0 L261.0,215.8 L264.4,214.9 L262.2,213.7 L259.7,213.3 L257.4,212.5 L253.9,212.0 L250.4,211.4 L251.2,209.1 L251.6,206.7 L255.2,206.3 L256.4,204.1 L257.9,202.1 L259.3,200.1 L258.4,197.5 L257.2,195.0 L261.3,193.0 L263.8,192.2 L266.0,190.6 L268.5,189.9 L269.4,186.9 L269.5,183.8 L267.7,181.1 L265.4,178.7 L263.0,178.6 L260.6,178.3 L258.2,177.7 L259.2,174.6 L260.3,171.5 L258.0,169.7 L256.2,167.4 L256.6,164.3 L257.0,161.3 L257.2,158.2 L258.0,155.9 L259.0,153.6 L259.3,151.1 L260.2,148.6 L261.4,146.4 L262.3,143.9 L263.6,141.8 L265.2,140.0Z M344.4,313.5 L346.3,321.7 L344.4,329.9 L340.9,328.7 L339.2,320.5 L342.0,315.9Z M336.2,333.4 L338.4,332.3 L340.9,331.9 L343.2,331.1 L345.7,332.6 L347.9,334.6 L348.1,337.2 L348.0,339.9 L348.4,342.5 L348.6,345.1 L348.0,348.2 L347.1,351.2 L346.7,354.4 L343.2,354.7 L339.7,355.6 L338.5,352.5 L336.9,349.7 L336.7,346.6 L337.5,343.5 L337.4,340.4 L337.1,336.9Z M286.8,345.5 L291.0,343.2 L295.0,345.0 L293.0,349.7 L289.0,348.5Z M298.5,343.0 L301.0,342.3 L303.2,343.6 L300.5,344.8Z M356.5,172.0 L360.0,170.7 L362.2,172.0 L364.5,173.0 L365.3,175.5 L366.0,178.0 L364.7,180.7 L364.0,183.5 L362.0,185.0 L360.5,187.0 L357.5,185.0 L358.4,182.6 L358.5,180.0 L355.8,176.5Z M349.5,178.5 L353.0,177.8 L354.2,182.0 L352.5,185.8 L349.8,184.5Z M356.0,188.5 L361.0,188.0 L363.0,190.0 L358.0,191.2Z M400.5,150.2 L402.8,152.0 L401.5,157.0 L399.0,160.4 L397.7,157.0 L398.8,152.5Z M390.5,158.0 L391.3,158.5 L388.2,169.0 L387.2,170.5 L388.3,164.0Z M379.3,180.0 L381.3,180.2 L381.5,182.5 L379.6,182.8Z M417.5,140.8 L422.0,139.8 L424.5,141.5 L422.0,144.0 L418.5,144.8 L416.5,143.0Z M419.5,135.2 L422.5,134.8 L423.0,137.3 L420.0,138.0Z M402.0,122.5 L405.0,121.5 L406.5,123.5 L404.0,125.5 L401.5,124.5Z M225.5,175.6 L228.1,175.3 L230.7,174.6 L233.2,175.8 L235.8,176.6 L236.8,174.3 L237.1,171.9 L237.8,169.5 L240.8,168.7 L243.9,168.5 L247.0,169.6 L250.1,170.5 L251.2,173.7 L253.1,176.6 L252.3,179.3 L251.1,181.8 L247.0,183.8 L246.9,186.6 L247.7,189.3 L248.0,192.0 L247.8,194.5 L247.0,196.8 L246.0,199.1 L242.9,200.5 L239.9,202.2 L236.8,202.2 L233.7,202.7 L230.7,203.2 L228.1,203.3 L225.5,203.8 L223.0,204.5 L220.4,204.6 L219.2,201.2 L217.4,198.1 L218.8,196.1 L220.5,194.4 L222.5,193.0 L223.9,191.0 L225.6,189.3 L227.6,187.9 L225.7,186.2 L223.5,184.8 L223.6,182.2 L224.5,179.7Z M204.2,32.7 L206.6,31.2 L209.3,30.2 L211.7,29.7 L214.0,29.2 L215.4,31.3 L216.0,33.7 L216.0,36.1 L215.4,38.5 L215.4,40.9 L217.9,39.3 L220.5,37.8 L222.9,39.2 L225.6,39.9 L228.2,40.0 L230.7,40.9 L233.4,40.8 L236.2,40.5 L238.9,40.3 L241.0,42.1 L243.0,43.9 L244.0,46.4 L244.5,49.0 L244.7,51.7 L245.5,54.2 L244.0,57.4 L242.0,60.3 L239.6,61.5 L237.3,62.9 L234.8,63.8 L232.1,64.2 L229.3,64.5 L226.7,65.4 L224.1,65.6 L221.5,65.8 L219.0,65.9 L216.4,66.4 L214.3,64.4 L211.6,63.1 L209.3,61.3 L208.0,58.1 L206.2,55.2 L203.2,54.1 L200.1,53.5 L202.6,52.7 L205.0,51.5 L207.2,50.1 L206.3,47.0 L205.2,43.9 L202.6,43.3 L200.1,42.3 L203.2,41.5 L206.3,40.9 L209.3,39.9 L207.0,37.6 L204.2,35.8Z M256.5,137.5 L259.0,137.0 L257.0,141.0 L253.5,146.0 L250.5,150.0 L249.5,148.5 L252.0,143.5Z M371.2,366.1 L374.3,365.3 L377.1,363.8 L380.0,363.6 L383.0,363.7 L385.9,363.5 L388.8,363.8 L391.5,362.9 L394.1,361.8 L396.9,361.4 L396.1,364.9 L395.8,368.4 L394.5,370.7 L393.4,373.1 L390.7,373.3 L387.9,373.0 L385.3,372.3 L382.5,372.2 L379.8,372.1 L377.1,372.0 L374.8,370.7 L372.4,369.6Z M276.3,351.0 L278.0,350.5 L277.8,352.5 L276.5,353.0Z M545.2,369.1 L547.3,367.7 L549.3,366.2 L551.0,364.4 L553.3,363.2 L555.8,362.4 L558.0,360.9 L560.6,359.2 L562.7,356.8 L561.6,359.9 L559.8,362.6 L560.4,365.0 L558.2,367.2 L555.7,369.1 L553.0,370.6 L549.9,371.4 L546.4,370.8Z M264.5,97.0 L266.5,96.2 L266.8,98.0 L265.6,100.5 L264.3,99.5Z M290.5,117.5 L292.5,116.0 L291.8,120.0 L290.0,122.5 L289.3,120.5Z M277.0,132.0 L280.0,131.0 L280.3,133.5 L277.5,134.5Z M468.0,377.0 L474.0,374.5 L484.0,375.0 L492.0,376.5 L492.0,380.0 L468.0,380.0Z M500.5,365.0 L503.0,363.5 L505.0,367.0 L502.0,369.5Z M461.0,345.0 L463.0,344.0 L468.5,350.0 L471.0,354.5 L469.0,354.5 L464.5,350.5Z M481.0,338.5 L484.5,337.5 L485.5,340.0 L482.0,341.0Z M481.5,346.0 L483.5,345.5 L483.8,349.0 L482.0,349.3Z M434.5,352.0 L436.5,351.5 L437.5,355.0 L435.5,355.5Z M468.5,327.1 L468.2,328.2 L466.8,327.8 L465.8,327.1 L466.8,326.4 L468.2,326.0Z M478.2,332.9 L477.0,333.9 L475.8,333.0 L475.2,331.8 L477.0,331.6 L478.7,331.8Z M493.3,353.0 L492.4,353.9 L490.8,353.3 L489.9,352.5 L491.6,352.1 L493.5,352.0Z M471.7,344.6 L471.5,346.1 L470.5,345.6 L469.8,344.6 L470.5,343.6 L471.5,343.1Z M473.8,353.5 L473.1,354.7 L472.6,353.4 L472.4,351.7 L473.3,351.5 L474.1,352.0Z M477.6,356.3 L477.3,357.2 L476.3,356.9 L475.4,356.3 L476.3,355.7 L477.3,355.4Z M481.0,359.8 L480.8,360.7 L479.8,360.4 L479.1,359.8 L479.8,359.2 L480.8,358.9Z M487.3,362.2 L486.6,362.9 L485.1,362.5 L484.0,361.9 L485.6,361.5 L487.3,361.4Z M491.4,359.8 L491.2,360.7 L490.4,360.4 L489.7,359.8 L490.4,359.2 L491.2,358.9Z M496.7,364.7 L495.6,365.4 L494.3,364.9 L493.6,364.2 L495.2,363.9 L497.0,364.0Z M481.1,366.8 L480.9,368.2 L479.7,367.8 L478.8,366.8 L479.7,365.8 L480.9,365.4Z M486.9,369.1 L486.6,370.0 L485.6,369.7 L484.8,369.1 L485.6,368.5 L486.6,368.2Z M476.5,371.5 L476.2,372.4 L475.0,372.1 L474.0,371.5 L475.0,370.9 L476.2,370.6Z M475.2,364.5 L475.0,365.5 L474.0,365.2 L473.3,364.5 L474.0,363.8 L475.0,363.5Z M470.7,360.0 L470.5,361.0 L469.7,360.7 L469.0,360.0 L469.7,359.3 L470.5,359.0Z M466.7,367.0 L466.5,367.9 L465.7,367.6 L465.0,367.0 L465.7,366.4 L466.5,366.1Z M483.9,372.0 L483.6,372.8 L482.6,372.5 L481.8,372.0 L482.6,371.5 L483.6,371.2Z M431.7,338.0 L431.5,339.5 L430.7,339.0 L430.0,338.0 L430.7,337.0 L431.5,336.5Z M434.2,346.5 L434.0,347.6 L433.2,347.2 L432.5,346.5 L433.2,345.8 L434.0,345.4Z M437.3,358.5 L437.1,359.8 L436.1,359.4 L435.4,358.5 L436.1,357.6 L437.1,357.2Z M397.4,307.0 L396.8,307.9 L396.4,306.3 L396.4,304.6 L397.2,304.7 L397.8,305.5Z M402.3,311.5 L401.7,312.2 L401.5,310.7 L401.5,309.0 L402.2,309.3 L402.7,310.2Z M391.5,299.3 L390.8,300.2 L390.4,298.9 L390.3,297.4 L391.1,297.3 L391.8,297.9Z M411.3,314.7 L410.2,315.2 L408.9,314.8 L408.2,314.2 L409.8,314.0 L411.6,314.0Z M357.7,321.0 L357.5,321.6 L356.7,321.4 L356.0,321.0 L356.7,320.6 L357.5,320.4Z M363.0,313.0 L362.9,313.6 L362.2,313.4 L361.8,313.0 L362.2,312.6 L362.9,312.4Z M506.6,252.1 L509.1,251.0 L511.7,250.1 L513.7,252.2 L515.8,254.2 L518.5,252.8 L521.4,251.8 L523.9,250.1 L528.0,249.5 L526.2,252.3 L523.9,254.8 L521.9,256.9 L520.1,259.1 L517.8,260.9 L520.6,260.6 L523.3,260.9 L526.0,261.3 L526.7,263.8 L528.4,265.9 L529.0,268.5 L530.5,266.5 L532.6,265.2 L534.2,263.4 L536.9,261.5 L539.3,259.3 L542.5,258.0 L545.4,256.2 L545.4,252.7 L542.2,253.4 L539.3,254.8 L536.8,254.1 L534.2,253.5 L533.1,249.0 L535.4,247.3 L537.2,245.0 L539.3,242.9 L541.3,240.9 L543.5,239.0 L545.5,236.9 L547.7,235.0 L549.5,232.7 L551.5,231.1 L553.4,229.4 L555.7,228.2 L557.7,226.6 L556.0,229.1 L555.3,232.2 L553.6,234.7 L551.8,237.1 L550.5,239.9 L551.8,242.1 L553.6,243.9 L552.4,246.9 L551.5,250.1 L548.5,252.7 L550.5,255.2 L553.4,255.8 L556.1,256.8 L558.9,257.8 L561.8,258.2 L564.3,259.1 L566.8,259.9 L569.5,260.4 L572.0,261.3 L574.9,262.7 L578.1,263.4 L580.6,264.1 L582.8,265.5 L585.1,266.5 L587.5,267.5 L590.0,268.0 L592.3,269.3 L594.0,271.2 L596.2,272.6 L598.1,274.2 L600.0,276.0 L601.6,277.9 L603.3,279.8 L604.7,281.9 L606.0,284.0 L604.1,285.8 L602.2,287.5 L600.0,289.0 L597.5,289.7 L595.0,290.0 L592.5,290.2 L590.0,290.5 L587.0,290.3 L584.0,290.3 L581.1,290.0 L578.1,289.9 L575.6,290.2 L573.2,290.9 L570.6,290.7 L568.3,292.0 L565.8,292.0 L563.1,292.0 L560.4,291.0 L557.7,290.9 L555.1,291.0 L552.6,290.1 L550.0,290.2 L547.4,289.9 L545.0,291.3 L542.2,291.7 L539.7,293.0 L537.2,294.0 L534.6,295.5 L531.9,296.8 L529.7,298.9 L527.0,300.1 L525.0,302.2 L523.0,304.3 L520.9,306.3 L518.8,307.7 L516.6,308.7 L514.7,310.4 L511.8,310.1 L508.9,310.4 L506.1,309.6 L503.2,309.9 L500.4,309.3 L497.7,307.9 L494.9,306.7 L492.3,305.2 L490.7,302.7 L489.2,300.1 L489.5,297.5 L490.1,295.0 L491.0,292.5 L491.2,289.9 L491.9,287.2 L492.4,284.4 L493.3,281.8 L494.3,279.2 L495.6,276.8 L496.6,274.2 L497.4,271.5 L498.0,269.0 L498.5,266.4 L498.6,263.8 L499.4,261.3 L500.5,258.9 L501.8,256.7 L502.5,254.2Z M488.0,318.0 L494.0,316.5 L501.0,317.0 L507.0,320.0 L503.0,323.0 L496.0,324.5 L490.0,322.0Z M646.3,181.4 L649.0,182.3 L651.4,183.9 L652.3,186.5 L652.1,189.3 L652.9,191.9 L651.1,194.3 L649.6,196.8 L647.8,199.2 L646.2,202.0 L644.9,205.0 L646.9,207.3 L649.2,209.4 L647.1,210.7 L645.5,212.5 L643.4,213.8 L645.6,215.6 L648.3,216.7 L650.7,218.2 L653.0,219.8 L655.8,220.8 L658.0,222.6 L660.9,222.0 L663.8,221.8 L666.8,221.8 L668.0,224.1 L669.3,226.4 L671.1,228.4 L672.9,230.4 L674.0,232.8 L673.4,230.4 L672.9,228.0 L672.6,225.5 L674.1,223.3 L675.5,221.1 L678.1,220.2 L680.6,218.9 L680.6,282.4 L678.0,283.5 L675.4,284.3 L672.6,284.6 L670.5,283.3 L668.1,282.3 L666.0,280.9 L665.0,278.7 L663.8,276.5 L662.4,274.5 L661.6,272.2 L660.9,269.3 L660.9,266.3 L660.1,263.4 L659.5,260.5 L660.7,258.4 L662.6,256.8 L663.8,254.7 L660.9,254.1 L658.0,253.9 L655.8,252.1 L653.1,251.2 L650.7,249.6 L648.4,248.2 L646.0,246.9 L643.4,245.9 L641.3,244.2 L639.0,243.1 L636.8,241.6 L634.6,240.1 L632.8,238.2 L631.5,235.9 L629.5,234.2 L628.4,231.3 L627.3,228.4 L624.0,227.5 L620.8,226.2 L620.4,223.0 L621.1,219.9 L620.8,216.7 L622.1,214.7 L623.4,212.6 L625.1,210.9 L626.4,208.1 L627.4,205.1 L628.1,202.1 L628.9,199.7 L629.2,197.1 L630.3,194.8 L632.5,192.5 L634.0,189.8 L636.1,187.5 L638.4,185.8 L641.0,184.5 L643.4,183.1Z" fill="#dee0e0" fill-rule="evenodd" stroke="none"/>
<g clip-path="url(#bl)">
<path d="M246.0,178.0 C248.7,174.3 253.3,169.5 256.0,166.0 C258.7,162.5 260.4,159.5 262.3,157.2 C264.2,154.9 265.7,153.5 267.4,152.1 C269.1,150.7 267.2,152.7 272.6,149.0 C278.0,145.3 291.2,136.2 300.0,130.0 C308.8,123.8 318.8,116.6 325.5,111.5 C332.2,106.4 335.1,103.7 340.0,99.5 C344.9,95.3 350.8,90.8 354.7,86.4 C358.6,82.0 361.0,76.5 363.4,73.0 C365.8,69.5 367.5,67.9 369.2,65.7 C370.9,63.5 371.9,62.3 373.6,59.9 C375.3,57.5 377.2,54.0 379.4,51.1 C381.6,48.2 384.3,45.0 386.7,42.3 C389.1,39.6 391.6,37.2 394.0,35.0 C396.4,32.8 398.9,31.1 401.3,29.2 C403.7,27.3 406.2,24.8 408.6,23.4 C411.1,22.0 412.4,20.8 416.0,20.6 C419.6,20.4 425.2,21.5 430.0,22.3 C434.8,23.1 439.3,24.4 444.5,25.5 C449.7,26.6 455.9,27.7 461.0,28.6 C466.1,29.5 469.9,30.2 475.0,30.7 C480.1,31.2 485.3,31.4 491.5,31.7 C497.7,32.0 505.2,32.5 512.0,32.7 C518.8,32.9 526.5,32.8 532.0,33.1 C537.5,33.4 540.8,34.2 545.0,34.7 C549.2,35.2 552.9,35.1 557.0,35.8 C561.1,36.5 565.3,37.4 569.5,38.8 C573.7,40.2 577.9,42.0 582.0,44.0 C586.1,46.0 590.0,48.2 594.0,51.0 C598.0,53.8 602.2,57.4 606.0,61.0 C609.8,64.6 613.0,68.1 616.5,72.6 C620.0,77.1 624.0,83.4 626.7,88.0 C629.5,92.6 631.4,96.7 633.0,100.0 C634.6,103.3 635.9,105.2 636.4,108.0 C636.9,110.8 636.5,113.5 635.8,117.0 C635.1,120.5 634.0,124.4 632.4,129.0 C630.8,133.6 628.8,139.0 626.0,144.7 C623.2,150.4 619.4,156.9 615.4,163.0 C611.4,169.1 606.8,175.3 602.0,181.5 C597.2,187.7 591.5,194.5 586.5,200.0 C581.5,205.5 576.8,209.9 572.0,214.5 C567.2,219.1 562.2,223.6 557.7,227.6 C553.2,231.6 549.5,234.6 545.0,238.5 C540.5,242.4 535.0,247.2 531.0,251.0 C527.0,254.8 525.0,257.6 521.0,261.0 C517.0,264.4 511.8,268.1 507.0,271.5 C502.2,274.9 497.3,278.4 492.0,281.5 C486.7,284.6 480.8,287.4 475.0,290.3 C469.2,293.2 463.3,296.2 457.5,299.1 C451.7,302.0 444.6,305.6 440.0,307.8 C435.4,310.0 433.1,310.8 430.0,312.3 C426.9,313.8 424.8,315.6 421.5,317.0 C418.2,318.4 413.7,319.8 410.0,321.0 C406.3,322.2 403.5,323.0 399.3,324.1 C395.1,325.2 389.5,326.5 385.0,327.5 C380.5,328.5 376.6,328.8 372.4,329.9 C368.2,331.0 364.1,332.7 360.0,334.0 C355.9,335.3 352.0,336.5 348.0,337.6 C344.0,338.7 341.0,338.7 336.0,340.4 C331.0,342.1 324.0,345.9 318.0,348.0 C312.0,350.1 306.3,352.2 300.0,353.0 C293.7,353.8 285.9,353.4 280.0,352.5 C274.1,351.6 269.7,349.1 264.6,347.9 C259.5,346.7 253.9,346.6 249.4,345.1 C244.9,343.7 241.1,341.5 237.8,339.2 C234.5,336.9 231.6,334.4 229.6,331.1 C227.6,327.8 226.8,323.7 226.1,319.4 C225.4,315.1 225.5,309.6 225.6,305.4 C225.7,301.2 226.4,298.4 226.8,294.2 C227.2,290.0 227.5,285.7 228.0,280.0 C228.5,274.3 229.3,266.7 230.0,260.0 C230.7,253.3 231.7,246.7 232.0,240.0 C232.3,233.3 231.3,226.7 232.0,220.0 C232.7,213.3 234.7,205.3 236.0,200.0 C237.3,194.7 238.3,191.7 240.0,188.0 C241.7,184.3 243.3,181.7 246.0,178.0Z" fill="#51a6d1"/>
<path d="M287.8,202.0 C291.8,195.2 295.8,187.0 300.0,180.0 C304.2,173.0 308.5,166.9 313.0,160.0 C317.5,153.1 322.9,145.2 326.9,138.4 C330.9,131.6 333.8,125.2 337.0,119.0 C340.2,112.8 343.7,106.2 346.0,101.5 C348.3,96.8 349.5,93.2 350.8,90.6 C352.1,87.9 351.9,88.6 353.8,85.6 C355.7,82.5 360.0,75.7 362.4,72.3 C364.8,68.9 366.5,67.2 368.2,65.0 C369.9,62.8 370.9,61.6 372.6,59.2 C374.3,56.8 376.2,53.3 378.4,50.4 C380.6,47.5 383.3,44.3 385.7,41.6 C388.1,38.9 390.6,36.4 393.0,34.3 C395.4,32.2 398.0,29.6 400.0,28.8 C402.0,28.0 403.3,29.0 405.0,29.4 C406.7,29.8 407.8,30.3 410.1,30.9 C412.4,31.5 416.3,31.8 419.0,32.8 C421.7,33.8 423.8,35.4 426.1,36.8 C428.4,38.2 430.6,39.2 433.0,41.0 C435.4,42.8 437.1,44.5 440.4,47.5 C443.7,50.5 448.6,55.7 452.7,59.3 C456.8,62.9 460.8,66.0 465.0,69.0 C469.2,72.0 472.9,74.4 478.0,77.5 C483.1,80.6 489.3,83.9 495.6,87.5 C501.9,91.1 509.2,95.1 516.0,99.0 C522.8,102.9 529.6,107.0 536.5,111.0 C543.4,115.0 550.9,119.4 557.5,123.3 C564.1,127.2 571.7,131.1 575.9,134.2 C580.1,137.3 581.4,138.9 582.5,142.0 C583.6,145.1 583.5,148.1 582.8,152.5 C582.0,156.9 580.3,162.2 578.0,168.3 C575.7,174.4 571.8,183.5 569.0,189.3 C566.2,195.1 563.2,199.3 561.2,203.0 C559.2,206.7 558.8,208.5 557.0,211.5 C555.2,214.5 553.3,217.7 550.7,221.0 C548.1,224.3 544.7,228.4 541.4,231.5 C538.1,234.6 534.6,237.2 530.9,239.7 C527.2,242.2 523.1,244.6 519.2,246.7 C515.3,248.8 511.5,250.1 507.5,252.3 C503.5,254.5 500.4,257.4 495.0,260.0 C489.6,262.6 481.2,265.1 475.0,267.8 C468.8,270.5 463.3,273.6 457.5,276.3 C451.7,279.0 446.2,281.5 440.0,283.9 C433.8,286.3 425.5,288.7 420.0,290.5 C414.5,292.3 411.5,293.4 407.0,294.5 C402.5,295.6 400.2,296.2 393.0,297.3 C385.8,298.4 371.1,299.9 363.8,300.9 C356.5,301.9 354.1,302.6 349.2,303.3 C344.3,304.0 338.6,304.3 334.6,305.0 C330.6,305.7 328.9,306.8 325.0,307.3 C321.1,307.8 315.8,308.4 311.0,307.9 C306.2,307.4 300.9,306.5 296.0,304.5 C291.1,302.5 285.8,299.4 281.5,295.8 C277.2,292.2 273.4,287.6 270.3,283.0 C267.2,278.4 264.3,272.9 262.8,268.0 C261.3,263.1 261.0,257.8 261.3,253.4 C261.6,249.0 263.4,245.4 264.8,241.7 C266.2,238.0 268.1,234.5 270.0,231.0 C271.9,227.5 273.1,225.5 276.1,220.7 C279.1,215.9 283.8,208.8 287.8,202.0Z" fill="#7bc1dc"/>
<path d="M290.5,202.5 C294.5,195.8 298.8,187.5 303.0,180.5 C307.2,173.5 311.6,167.3 316.0,160.5 C320.4,153.7 325.6,146.2 329.5,139.5 C333.4,132.8 336.3,126.2 339.5,120.0 C342.7,113.8 346.1,107.0 348.5,102.5 C350.9,98.0 352.6,95.4 354.0,93.0 C355.4,90.6 355.8,90.0 357.0,88.0 C358.2,86.0 359.4,83.8 361.3,81.1 C363.2,78.4 366.3,74.4 368.3,71.7 C370.3,69.0 371.6,66.8 373.5,64.7 C375.4,62.6 377.2,60.8 379.4,58.9 C381.5,57.0 383.7,55.0 386.4,53.6 C389.1,52.2 392.6,50.9 395.7,50.5 C398.8,50.1 402.1,50.7 405.1,51.3 C408.2,51.9 411.5,53.1 414.0,54.2 C416.5,55.3 417.0,56.0 420.0,58.0 C423.0,60.0 428.6,63.6 432.0,66.0 C435.4,68.4 438.0,70.5 440.4,72.5 C442.8,74.5 443.0,75.4 446.6,77.7 C450.2,80.0 456.4,83.3 462.0,86.5 C467.6,89.7 473.7,93.5 480.0,97.0 C486.3,100.5 493.2,103.9 500.0,107.5 C506.8,111.1 515.1,115.3 520.8,118.4 C526.4,121.5 530.6,123.7 533.9,126.3 C537.2,128.9 539.2,130.7 540.5,134.2 C541.8,137.7 541.8,141.6 541.8,147.3 C541.8,153.0 541.3,161.2 540.5,168.3 C539.7,175.4 538.0,184.6 537.0,190.0 C536.0,195.4 535.4,197.4 534.4,201.0 C533.4,204.6 532.5,208.0 530.9,211.7 C529.3,215.4 527.3,219.5 525.0,223.4 C522.7,227.3 519.8,231.3 516.9,235.0 C514.0,238.7 510.4,242.6 507.5,245.5 C504.6,248.4 501.8,250.4 499.3,252.3 C496.8,254.2 496.7,254.9 492.6,257.0 C488.6,259.1 480.9,262.3 475.0,264.8 C469.1,267.3 463.3,269.8 457.5,272.0 C451.7,274.2 446.2,275.9 440.0,278.0 C433.8,280.1 425.5,282.7 420.0,284.5 C414.5,286.3 411.5,287.6 407.0,288.8 C402.5,290.1 400.2,290.6 393.0,292.0 C385.8,293.4 371.1,296.2 363.8,297.5 C356.5,298.8 354.1,299.2 349.2,299.9 C344.3,300.6 338.6,300.9 334.6,301.6 C330.6,302.3 329.1,303.3 325.2,303.9 C321.3,304.5 315.8,305.4 311.1,305.0 C306.4,304.6 301.8,303.5 297.1,301.5 C292.4,299.5 287.2,296.5 283.1,293.1 C279.0,289.8 275.5,285.7 272.6,281.4 C269.7,277.1 267.0,272.1 265.6,267.4 C264.2,262.7 263.6,257.7 264.0,253.4 C264.4,249.1 266.4,245.4 267.9,241.7 C269.4,238.0 271.1,234.4 273.0,231.0 C274.9,227.6 276.1,225.8 279.0,221.0 C281.9,216.2 286.5,209.2 290.5,202.5Z" fill="#a4d2e4"/>
<path d="M423.0,84.6 C425.9,84.8 429.1,86.6 431.8,89.0 C434.5,91.4 436.9,95.5 439.1,99.2 C441.3,102.9 443.1,107.0 444.9,110.9 C446.7,114.8 448.1,118.8 450.0,122.6 C451.9,126.4 453.8,129.3 456.2,134.0 C458.6,138.7 461.5,144.9 464.1,151.0 C466.7,157.1 469.2,163.9 472.0,170.4 C474.8,176.9 478.6,185.1 480.7,190.0 C482.8,194.9 483.6,196.8 484.7,199.6 C485.8,202.4 486.9,204.9 487.0,207.0 C487.1,209.1 487.8,209.8 485.0,212.3 C482.2,214.8 475.4,219.0 470.3,222.1 C465.2,225.2 459.6,228.2 454.2,231.0 C448.8,233.8 443.5,236.5 438.2,239.0 C432.9,241.5 427.5,243.9 422.1,246.2 C416.8,248.5 410.6,250.4 406.1,252.6 C401.6,254.8 398.9,257.6 395.0,259.4 C391.1,261.2 387.1,261.8 382.6,263.2 C378.1,264.6 372.9,266.2 368.0,267.6 C363.1,269.0 358.3,270.3 353.4,271.3 C348.5,272.3 343.0,273.3 338.8,273.6 C334.6,273.9 330.8,274.2 328.0,273.0 C325.2,271.8 323.7,269.3 322.0,266.5 C320.3,263.7 318.6,260.2 317.6,256.3 C316.6,252.4 315.9,248.1 316.2,243.2 C316.4,238.3 317.8,232.2 319.1,227.1 C320.4,222.0 322.4,216.9 324.2,212.5 C326.0,208.1 327.1,206.4 330.2,200.5 C333.2,194.6 338.8,183.5 342.5,176.8 C346.2,170.1 349.0,165.5 352.7,160.4 C356.4,155.3 361.4,150.3 364.6,146.4 C367.8,142.5 369.5,140.4 371.9,137.2 C374.3,133.9 376.6,130.4 379.2,126.9 C381.8,123.4 384.2,119.7 387.2,116.0 C390.2,112.3 393.7,108.3 397.0,104.5 C400.3,100.7 404.0,96.2 406.9,93.4 C409.8,90.6 411.5,89.0 414.2,87.5 C416.9,86.0 420.1,84.3 423.0,84.6Z" fill="#cfe8f1"/>
</g>
<path class="bd" d="M575.5,369.1 L576.0,366.6 L577.3,364.4 L576.5,362.1 L576.1,359.7 L574.8,357.2 L573.2,355.0 L573.8,350.4 L571.5,347.4 L572.6,343.4 L570.9,340.4 L568.9,341.9 L567.4,343.9 L564.5,344.3 L561.5,344.5 L559.2,346.9 L556.9,349.2 L555.2,351.6 L552.9,353.4 L551.0,355.6 L548.7,356.5 L546.2,356.9 L544.0,358.0 L541.8,356.6 L539.3,356.1 L537.0,355.0 L534.6,354.8 L532.4,353.8 L530.0,353.3 L528.2,356.2 L525.8,358.6 L523.5,360.2 L521.3,361.8 L518.6,362.7 L516.4,364.5 L514.1,363.8 L511.7,363.6 L509.4,363.0 L507.1,362.1 L504.7,361.5 L502.4,360.5 L500.1,359.8 L498.6,357.3 L496.9,354.9 L494.9,352.8 L493.1,350.5 L491.2,348.8 L489.6,347.0 L487.6,345.4 L486.1,343.4 L487.0,341.1 L487.8,338.8 L488.4,336.4 L487.2,334.2 L486.5,331.8 L485.6,329.5 L484.9,327.1 L482.2,327.1 L479.4,327.4 L476.7,327.1 L474.4,326.1 L472.0,325.5 L469.7,324.7 L467.3,325.8 L464.8,326.7 L462.7,328.3 L460.4,329.1 L458.0,329.7 L455.7,330.6 L453.4,334.1 L454.5,337.1 L456.3,339.6 L458.0,342.3 L460.3,344.2 L462.7,346.2 L465.0,348.1 L466.7,349.9 L468.2,352.0 L469.7,354.0 L466.2,353.6 L462.7,352.8 L460.3,353.8 L458.0,355.1 L456.9,357.5 L455.7,359.8 L457.4,362.1 L458.9,364.4 L460.4,366.8 L459.5,369.3 L458.0,371.5 L455.5,370.2 L453.2,368.6 L451.0,366.8 L448.9,364.9 L446.5,363.5 L444.0,362.1 L444.0,359.8 L442.0,358.3 L440.6,356.2 L438.7,354.6 L437.0,352.8 L435.6,350.3 L433.6,348.3 L432.2,345.9 L430.8,343.4 L429.8,341.0 L429.1,338.6 L428.7,336.0 L428.2,333.5 L427.3,331.1 L426.6,328.5 L426.8,325.8 L426.3,323.2 L426.1,320.5 L423.8,318.8 L421.5,317.0 L419.3,315.6 L416.7,315.0 L414.5,313.5 L412.1,312.3 L409.7,311.2 L407.6,309.4 L405.6,307.6 L403.3,306.3 L400.9,305.2 L398.8,303.6 L396.6,301.4 L394.8,298.8 L393.0,296.3 L391.4,293.9 L389.3,292.0 L387.8,289.5 L385.7,287.5 L382.0,287.0 L379.0,290.5 L377.5,287.0 L376.2,283.9 L372.5,283.2 L369.6,284.6 L368.5,287.0 L366.7,289.0 L367.2,292.0 L368.2,294.8 L368.9,297.7 L370.6,299.8 L372.7,301.6 L374.9,303.2 L376.9,305.0 L378.6,307.4 L379.6,310.3 L381.5,312.6 L382.8,315.3 L385.3,317.1 L387.9,318.8 L390.1,321.1 L392.3,322.2 L394.8,322.2 L397.0,323.4 L399.3,324.1 L398.1,327.6 L400.4,328.6 L402.7,329.4 L405.1,329.9 L407.3,331.2 L410.0,331.2 L412.1,332.6 L414.5,333.4 L416.6,335.6 L418.2,338.2 L420.3,340.4 L416.8,342.7 L414.3,341.0 L412.0,339.0 L409.8,336.9 L406.9,337.5 L403.9,338.1 L404.3,340.9 L405.5,343.5 L406.3,346.2 L407.6,348.9 L408.3,351.8 L409.8,354.4 L408.6,356.5 L407.6,358.7 L406.4,360.8 L405.1,362.8 L403.9,364.9 L400.4,364.9 L400.8,361.8 L400.9,358.7 L401.6,355.6 L400.4,352.9 L398.9,350.3 L398.1,347.4 L396.3,345.7 L394.9,343.6 L393.0,342.0 L391.1,340.4 L388.8,338.9 L386.4,337.6 L384.1,336.1 L381.8,334.6 L380.4,332.3 L378.4,330.6 L376.0,329.4 L373.4,328.5 L370.8,327.7 L368.2,326.9 L365.9,325.2 L363.1,324.4 L360.9,322.6 L358.9,320.7 L356.8,318.9 L355.0,316.7 L354.7,313.7 L353.8,310.8 L352.8,308.0 L351.9,305.6 L350.3,303.7 L349.2,301.4 L346.8,300.4 L344.2,299.7 L341.9,298.5 L339.0,299.5 L336.0,300.2 L333.4,301.9 L331.0,304.0 L329.2,305.9 L327.2,307.6 L325.0,309.0 L322.7,309.9 L320.3,310.3 L318.0,311.0 L315.5,309.5 L312.6,308.8 L310.0,307.5 L307.3,307.0 L304.6,306.9 L302.0,306.0 L300.1,307.8 L298.9,310.2 L297.0,312.0 L295.7,314.4 L295.0,317.0 L295.1,320.6 L295.0,324.1 L292.1,324.9 L289.7,326.7 L286.8,327.6 L284.2,328.7 L281.9,330.2 L279.8,331.9 L277.5,333.4 L276.0,335.4 L273.7,336.6 L272.3,338.7 L270.5,340.4 L268.6,342.8 L266.8,345.2 L264.6,347.4 L265.7,349.8 L266.7,352.2 L268.1,354.4 L265.6,356.6 L263.5,359.1 L261.6,361.1 L259.8,363.2 L257.6,364.9 L255.0,366.1 L252.0,366.1 L249.4,367.3 L247.1,368.6 L244.6,369.3 L242.4,370.8 L239.6,369.9 L236.6,369.4 L233.7,369.2 L230.8,368.4 L228.6,369.6 L226.2,370.3 L223.7,370.8 L220.9,371.4 L218.3,372.2 L215.6,373.1 L213.5,370.5 L210.9,368.4 L209.6,365.6 L208.6,362.6 L206.5,360.7 L204.0,359.4 L201.6,357.9 L198.6,357.8 L195.7,357.9 L193.3,357.4 L190.9,356.6 L188.7,355.6 L189.1,352.9 L189.5,350.3 L190.5,347.7 L191.0,345.1 L189.7,342.4 L188.6,339.7 L187.5,336.9 L189.0,334.5 L190.8,332.4 L192.2,329.9 L193.8,327.4 L194.8,324.8 L195.5,321.9 L196.9,319.4 L197.8,317.1 L198.5,314.8 L198.8,312.3 L199.3,309.9 L200.4,307.7 L200.9,304.6 L201.1,301.5 L201.6,298.4 L201.5,295.4 L201.6,292.5 L204.3,291.9 L206.7,290.4 L209.6,290.1 L212.1,289.0 L214.3,290.3 L216.8,290.8 L219.1,291.8 L221.8,292.1 L224.3,293.1 L227.0,293.1 L229.4,293.4 L231.6,294.5 L234.1,294.5 L236.4,295.4 L239.3,296.3 L242.2,296.8 L245.3,296.8 L248.1,297.8 L250.5,298.2 L252.7,299.5 L255.1,299.9 L257.3,300.9 L259.7,301.3 L260.7,298.5 L261.9,295.7 L263.3,293.1 L263.8,289.9 L264.6,286.9 L265.6,283.8 L265.6,281.0 L266.4,278.3 L266.8,275.6 L266.3,272.8 L264.8,270.2 L264.4,267.4 L262.9,264.8 L262.3,261.8 L260.9,259.2 L259.0,257.0 L257.4,254.6 L254.5,253.8 L252.1,251.9 L249.2,251.1 L247.6,248.2 L246.2,245.2 L249.1,244.1 L252.2,244.1 L255.1,242.9 L258.3,243.4 L261.3,244.6 L264.4,245.2 L267.9,245.2 L267.5,242.1 L267.8,239.0 L267.9,235.9 L272.6,235.9 L274.9,239.4 L277.6,238.9 L280.3,238.5 L283.1,238.2 L285.7,236.6 L287.5,234.0 L290.1,232.4 L291.5,230.0 L293.4,227.9 L294.8,225.4 L297.1,224.1 L299.5,223.2 L301.8,221.9 L304.3,220.4 L306.7,218.7 L308.9,216.8 L311.1,214.9 L313.1,212.7 L315.0,210.4 L316.2,207.7 L318.2,205.5 L320.0,201.3 L322.8,201.0 L325.4,199.8 L328.2,199.3 L330.8,199.2 L333.3,200.0 L335.8,200.1 L338.4,200.3 L339.6,197.5 L341.5,195.2 L340.8,192.5 L340.9,189.7 L340.4,187.0 L340.1,184.5 L340.3,181.9 L339.6,179.4 L339.4,176.8 L340.1,174.3 L339.8,171.7 L339.8,169.1 L340.4,166.6 L342.3,164.0 L344.7,162.0 L346.6,159.4 L349.0,157.5 L351.7,156.3 L352.0,159.0 L351.7,161.8 L351.7,164.5 L351.5,167.2 L351.5,170.0 L350.7,172.7 L349.9,175.4 L349.4,178.2 L348.6,180.9 L349.5,183.2 L350.1,185.6 L350.7,188.0 L353.4,189.9 L355.8,192.1 L357.8,195.2 L360.4,193.6 L363.4,192.7 L366.0,191.1 L368.7,190.5 L371.1,189.0 L372.9,190.7 L374.2,192.7 L376.2,194.2 L378.6,193.3 L380.7,191.9 L383.2,191.4 L385.4,190.1 L387.5,188.8 L389.7,187.9 L391.6,186.4 L393.6,185.0 L396.3,184.7 L399.0,183.9 L401.7,183.9 L403.7,185.3 L405.8,186.7 L407.9,188.0 L410.5,186.9 L413.4,187.0 L416.1,186.0 L416.5,182.9 L417.6,179.9 L418.1,176.8 L417.6,174.0 L416.6,171.4 L416.1,168.6 L416.2,165.8 L415.2,163.2 L415.0,160.4 L416.2,157.8 L417.1,155.0 L418.1,152.3 L420.1,150.9 L422.1,149.4 L424.2,148.2 L426.0,150.5 L428.2,152.4 L430.4,154.3 L432.4,150.2 L431.1,148.1 L430.0,145.9 L428.3,144.1 L431.8,144.5 L428.8,141.0 L426.0,137.5 L427.8,135.0 L430.0,133.0 L432.7,131.5 L434.8,129.3 L437.4,127.4 L440.0,125.5 L441.9,124.0 L443.8,122.5 L446.0,121.5 L448.9,119.8 L452.0,118.5 L454.9,117.4 L457.5,115.7 L454.9,115.4 L452.5,114.4 L450.0,113.8 L446.7,113.4 L443.4,113.1 L441.1,113.9 L439.2,115.6 L436.8,116.2 L434.7,117.4 L432.3,118.7 L429.9,120.0 L427.4,121.1 L424.8,122.4 L422.5,123.9 L420.1,125.5 L417.2,124.2 L414.2,123.3 L410.6,121.1 L410.0,118.7 L410.1,116.2 L409.9,113.8 L409.2,111.4 L409.2,108.9 L408.4,106.5 L407.1,104.2 L406.3,101.7 L405.5,99.2 L405.2,96.8 L405.2,94.3 L404.7,91.9 L406.5,90.0 L408.3,88.1 L409.9,86.1 L410.6,83.7 L411.9,81.6 L413.3,79.6 L414.2,77.3 L415.2,74.7 L416.6,72.2 L418.3,70.0 L418.8,65.4 L416.3,65.1 L414.0,64.0 L411.6,63.4 L408.6,64.4 L405.5,65.4 L404.4,67.7 L402.6,69.7 L401.5,72.0 L401.5,75.4 L401.8,78.8 L400.3,81.6 L399.6,84.7 L398.2,87.5 L397.1,89.9 L395.2,91.9 L394.0,94.3 L392.3,96.3 L391.1,99.2 L389.6,102.0 L388.7,105.0 L387.8,107.9 L388.1,110.9 L387.2,113.8 L388.2,116.2 L389.0,118.7 L390.1,121.1 L392.2,122.8 L394.5,124.0 L396.7,125.5 L398.2,128.3 L398.9,131.3 L397.7,133.7 L396.8,136.3 L395.3,138.6 L393.3,140.5 L391.4,142.6 L389.4,144.5 L389.5,148.2 L389.2,150.6 L388.7,153.0 L388.9,155.5 L388.5,157.9 L388.5,160.4 L388.1,163.1 L386.9,165.5 L386.0,168.1 L385.4,170.7 L382.8,171.7 L379.9,172.0 L377.2,172.7 L376.2,175.2 L375.2,177.8 L372.8,177.2 L370.4,177.4 L368.0,176.8 L367.7,174.2 L366.9,171.7 L366.2,169.2 L366.0,166.6 L365.5,164.1 L364.2,161.9 L363.6,159.4 L362.6,157.1 L361.6,154.7 L360.9,152.3 L358.8,150.1 L358.1,146.6 L357.6,143.1 L355.9,140.1 L353.5,140.7 L352.4,137.2 L350.7,139.6 L348.9,141.9 L346.7,143.6 L344.7,145.5 L343.0,147.7 L341.1,149.2 L338.6,149.8 L336.6,151.2 L333.9,150.3 L331.4,148.9 L330.1,146.8 L328.2,145.1 L326.7,143.1 L325.5,140.2 L324.3,137.2 L324.8,134.2 L326.1,131.4 L325.3,128.9 L323.8,126.7 L323.7,123.9 L323.4,121.2 L322.6,118.5 L323.8,116.3 L324.9,114.0 L325.5,111.5 L327.6,109.4 L329.4,107.0 L331.4,104.8 L332.9,102.2 L335.0,99.8 L337.5,97.9 L340.1,96.1 L342.5,94.9 L344.4,93.0 L346.8,91.7 L348.8,89.8 L351.0,88.3 L352.6,86.3 L353.1,83.7 L354.5,81.6 L356.0,79.5 L357.1,77.1 L357.9,74.6 L358.3,72.0 L359.0,69.5 L360.0,67.0 L360.7,64.4 L361.9,61.9 L362.6,59.3 L364.2,57.1 L366.2,55.2 L367.6,52.9 L369.7,51.1 L370.7,48.7 L372.0,46.4 L372.8,43.9 L370.0,43.9 L367.3,43.2 L364.6,42.9 L366.4,40.6 L368.6,38.7 L370.7,36.8 L372.6,34.6 L375.0,32.9 L377.0,30.8 L378.9,28.6 L380.2,26.6 L381.3,24.4 L383.0,22.6 L384.0,20.4 L386.5,19.6 L388.9,18.6 L391.2,17.4 L393.1,15.2 L395.6,13.6 L397.3,11.2 L399.4,9.2 L402.9,8.9 L406.5,9.2 L409.0,8.1 L411.1,6.1 L413.7,5.1 L418.0,5.5 L420.8,6.8 L423.9,7.2 L424.7,9.5 L425.0,12.0 L424.1,14.6 L424.0,17.4 L427.0,16.0 L429.8,14.9 L432.3,13.3 L435.0,13.8 L437.6,15.0 L440.4,15.3 L443.0,15.0 L445.5,14.4 L448.1,14.3 L450.7,14.3 L453.2,15.0 L455.7,15.7 L458.3,15.9 L460.9,16.3 L463.5,16.9 L466.0,17.9 L468.5,18.8 L471.1,19.4 L472.5,21.4 L474.6,22.7 L476.2,24.5 L476.7,27.6 L477.2,30.7 L476.3,33.0 L475.6,35.4 L475.2,37.8 L473.2,39.3 L471.3,40.9 L469.0,41.9 L466.6,42.1 L464.1,42.2 L461.7,42.2 L459.2,42.4 L456.8,42.9 L454.4,42.4 L451.9,41.9 L449.5,41.3 L447.0,40.9 L444.5,40.9 L446.8,42.3 L448.8,44.1 L450.7,46.0 L452.9,47.6 L455.6,48.5 L457.8,50.1 L459.3,52.7 L460.8,55.3 L461.9,58.2 L464.2,60.0 L466.5,61.9 L469.0,63.4 L471.7,63.0 L474.5,63.3 L477.2,63.4 L478.2,59.3 L475.5,58.0 L473.1,56.2 L469.0,54.2 L472.0,53.3 L475.2,53.1 L477.9,52.5 L480.7,52.4 L483.4,52.1 L485.4,49.0 L483.4,47.6 L481.7,45.9 L480.3,43.9 L480.9,40.9 L481.0,37.8 L481.3,34.7 L482.5,32.5 L483.8,30.5 L485.4,28.6 L488.4,29.5 L491.5,29.6 L491.0,26.5 L490.5,23.5 L487.9,21.8 L485.8,19.4 L483.4,17.4 L482.5,14.7 L480.9,12.2 L479.5,9.7 L478.2,7.2 L480.6,5.8 L483.0,4.5 L487.4,3.0 L488.3,5.5 L489.8,7.7 L490.5,10.2 L489.8,12.9 L488.5,15.3 L491.5,16.9 L494.6,18.4 L497.0,16.2 L499.7,14.3 L499,2 L683,2 L683,376 L575.5,376 Z M266.4,137.8 L268.7,138.5 L271.2,138.6 L273.6,138.8 L276.6,141.9 L274.5,144.2 L272.6,146.7 L270.5,149.0 L273.2,149.3 L276.0,149.0 L278.7,149.0 L281.7,152.1 L280.4,154.4 L279.7,156.9 L278.7,159.3 L277.2,161.2 L275.5,162.9 L273.6,164.4 L276.2,166.4 L278.7,168.5 L279.1,170.9 L280.1,173.1 L280.6,175.5 L281.7,177.7 L283.0,180.3 L283.6,183.2 L284.8,185.8 L285.6,188.5 L285.8,191.4 L286.9,194.0 L287.5,196.7 L287.6,199.5 L287.9,202.2 L290.3,203.1 L292.7,204.1 L295.0,205.2 L297.1,209.0 L295.1,211.3 L293.4,213.8 L291.3,216.0 L292.8,218.0 L294.8,219.5 L292.4,220.5 L290.1,221.8 L287.8,223.0 L284.6,223.0 L281.6,224.2 L278.4,224.2 L275.4,223.4 L272.2,223.2 L269.1,223.0 L265.9,222.8 L262.9,222.1 L259.7,221.9 L257.4,222.8 L255.1,223.6 L252.7,224.2 L249.6,225.0 L246.6,225.9 L243.4,226.5 L245.3,224.9 L246.9,223.0 L248.6,221.2 L250.4,219.5 L252.8,218.5 L255.2,217.3 L257.4,216.0 L261.0,215.8 L264.4,214.9 L262.2,213.7 L259.7,213.3 L257.4,212.5 L253.9,212.0 L250.4,211.4 L251.2,209.1 L251.6,206.7 L255.2,206.3 L256.4,204.1 L257.9,202.1 L259.3,200.1 L258.4,197.5 L257.2,195.0 L261.3,193.0 L263.8,192.2 L266.0,190.6 L268.5,189.9 L269.4,186.9 L269.5,183.8 L267.7,181.1 L265.4,178.7 L263.0,178.6 L260.6,178.3 L258.2,177.7 L259.2,174.6 L260.3,171.5 L258.0,169.7 L256.2,167.4 L256.6,164.3 L257.0,161.3 L257.2,158.2 L258.0,155.9 L259.0,153.6 L259.3,151.1 L260.2,148.6 L261.4,146.4 L262.3,143.9 L263.6,141.8 L265.2,140.0Z M344.4,313.5 L346.3,321.7 L344.4,329.9 L340.9,328.7 L339.2,320.5 L342.0,315.9Z M336.2,333.4 L338.4,332.3 L340.9,331.9 L343.2,331.1 L345.7,332.6 L347.9,334.6 L348.1,337.2 L348.0,339.9 L348.4,342.5 L348.6,345.1 L348.0,348.2 L347.1,351.2 L346.7,354.4 L343.2,354.7 L339.7,355.6 L338.5,352.5 L336.9,349.7 L336.7,346.6 L337.5,343.5 L337.4,340.4 L337.1,336.9Z M286.8,345.5 L291.0,343.2 L295.0,345.0 L293.0,349.7 L289.0,348.5Z M298.5,343.0 L301.0,342.3 L303.2,343.6 L300.5,344.8Z M356.5,172.0 L360.0,170.7 L362.2,172.0 L364.5,173.0 L365.3,175.5 L366.0,178.0 L364.7,180.7 L364.0,183.5 L362.0,185.0 L360.5,187.0 L357.5,185.0 L358.4,182.6 L358.5,180.0 L355.8,176.5Z M349.5,178.5 L353.0,177.8 L354.2,182.0 L352.5,185.8 L349.8,184.5Z M356.0,188.5 L361.0,188.0 L363.0,190.0 L358.0,191.2Z M400.5,150.2 L402.8,152.0 L401.5,157.0 L399.0,160.4 L397.7,157.0 L398.8,152.5Z M390.5,158.0 L391.3,158.5 L388.2,169.0 L387.2,170.5 L388.3,164.0Z M379.3,180.0 L381.3,180.2 L381.5,182.5 L379.6,182.8Z M417.5,140.8 L422.0,139.8 L424.5,141.5 L422.0,144.0 L418.5,144.8 L416.5,143.0Z M419.5,135.2 L422.5,134.8 L423.0,137.3 L420.0,138.0Z M402.0,122.5 L405.0,121.5 L406.5,123.5 L404.0,125.5 L401.5,124.5Z M225.5,175.6 L228.1,175.3 L230.7,174.6 L233.2,175.8 L235.8,176.6 L236.8,174.3 L237.1,171.9 L237.8,169.5 L240.8,168.7 L243.9,168.5 L247.0,169.6 L250.1,170.5 L251.2,173.7 L253.1,176.6 L252.3,179.3 L251.1,181.8 L247.0,183.8 L246.9,186.6 L247.7,189.3 L248.0,192.0 L247.8,194.5 L247.0,196.8 L246.0,199.1 L242.9,200.5 L239.9,202.2 L236.8,202.2 L233.7,202.7 L230.7,203.2 L228.1,203.3 L225.5,203.8 L223.0,204.5 L220.4,204.6 L219.2,201.2 L217.4,198.1 L218.8,196.1 L220.5,194.4 L222.5,193.0 L223.9,191.0 L225.6,189.3 L227.6,187.9 L225.7,186.2 L223.5,184.8 L223.6,182.2 L224.5,179.7Z M204.2,32.7 L206.6,31.2 L209.3,30.2 L211.7,29.7 L214.0,29.2 L215.4,31.3 L216.0,33.7 L216.0,36.1 L215.4,38.5 L215.4,40.9 L217.9,39.3 L220.5,37.8 L222.9,39.2 L225.6,39.9 L228.2,40.0 L230.7,40.9 L233.4,40.8 L236.2,40.5 L238.9,40.3 L241.0,42.1 L243.0,43.9 L244.0,46.4 L244.5,49.0 L244.7,51.7 L245.5,54.2 L244.0,57.4 L242.0,60.3 L239.6,61.5 L237.3,62.9 L234.8,63.8 L232.1,64.2 L229.3,64.5 L226.7,65.4 L224.1,65.6 L221.5,65.8 L219.0,65.9 L216.4,66.4 L214.3,64.4 L211.6,63.1 L209.3,61.3 L208.0,58.1 L206.2,55.2 L203.2,54.1 L200.1,53.5 L202.6,52.7 L205.0,51.5 L207.2,50.1 L206.3,47.0 L205.2,43.9 L202.6,43.3 L200.1,42.3 L203.2,41.5 L206.3,40.9 L209.3,39.9 L207.0,37.6 L204.2,35.8Z M256.5,137.5 L259.0,137.0 L257.0,141.0 L253.5,146.0 L250.5,150.0 L249.5,148.5 L252.0,143.5Z M371.2,366.1 L374.3,365.3 L377.1,363.8 L380.0,363.6 L383.0,363.7 L385.9,363.5 L388.8,363.8 L391.5,362.9 L394.1,361.8 L396.9,361.4 L396.1,364.9 L395.8,368.4 L394.5,370.7 L393.4,373.1 L390.7,373.3 L387.9,373.0 L385.3,372.3 L382.5,372.2 L379.8,372.1 L377.1,372.0 L374.8,370.7 L372.4,369.6Z M276.3,351.0 L278.0,350.5 L277.8,352.5 L276.5,353.0Z M545.2,369.1 L547.3,367.7 L549.3,366.2 L551.0,364.4 L553.3,363.2 L555.8,362.4 L558.0,360.9 L560.6,359.2 L562.7,356.8 L561.6,359.9 L559.8,362.6 L560.4,365.0 L558.2,367.2 L555.7,369.1 L553.0,370.6 L549.9,371.4 L546.4,370.8Z M264.5,97.0 L266.5,96.2 L266.8,98.0 L265.6,100.5 L264.3,99.5Z M290.5,117.5 L292.5,116.0 L291.8,120.0 L290.0,122.5 L289.3,120.5Z M277.0,132.0 L280.0,131.0 L280.3,133.5 L277.5,134.5Z M468.0,377.0 L474.0,374.5 L484.0,375.0 L492.0,376.5 L492.0,380.0 L468.0,380.0Z M500.5,365.0 L503.0,363.5 L505.0,367.0 L502.0,369.5Z M461.0,345.0 L463.0,344.0 L468.5,350.0 L471.0,354.5 L469.0,354.5 L464.5,350.5Z M481.0,338.5 L484.5,337.5 L485.5,340.0 L482.0,341.0Z M481.5,346.0 L483.5,345.5 L483.8,349.0 L482.0,349.3Z M434.5,352.0 L436.5,351.5 L437.5,355.0 L435.5,355.5Z M468.5,327.1 L468.2,328.2 L466.8,327.8 L465.8,327.1 L466.8,326.4 L468.2,326.0Z M478.2,332.9 L477.0,333.9 L475.8,333.0 L475.2,331.8 L477.0,331.6 L478.7,331.8Z M493.3,353.0 L492.4,353.9 L490.8,353.3 L489.9,352.5 L491.6,352.1 L493.5,352.0Z M471.7,344.6 L471.5,346.1 L470.5,345.6 L469.8,344.6 L470.5,343.6 L471.5,343.1Z M473.8,353.5 L473.1,354.7 L472.6,353.4 L472.4,351.7 L473.3,351.5 L474.1,352.0Z M477.6,356.3 L477.3,357.2 L476.3,356.9 L475.4,356.3 L476.3,355.7 L477.3,355.4Z M481.0,359.8 L480.8,360.7 L479.8,360.4 L479.1,359.8 L479.8,359.2 L480.8,358.9Z M487.3,362.2 L486.6,362.9 L485.1,362.5 L484.0,361.9 L485.6,361.5 L487.3,361.4Z M491.4,359.8 L491.2,360.7 L490.4,360.4 L489.7,359.8 L490.4,359.2 L491.2,358.9Z M496.7,364.7 L495.6,365.4 L494.3,364.9 L493.6,364.2 L495.2,363.9 L497.0,364.0Z M481.1,366.8 L480.9,368.2 L479.7,367.8 L478.8,366.8 L479.7,365.8 L480.9,365.4Z M486.9,369.1 L486.6,370.0 L485.6,369.7 L484.8,369.1 L485.6,368.5 L486.6,368.2Z M476.5,371.5 L476.2,372.4 L475.0,372.1 L474.0,371.5 L475.0,370.9 L476.2,370.6Z M475.2,364.5 L475.0,365.5 L474.0,365.2 L473.3,364.5 L474.0,363.8 L475.0,363.5Z M470.7,360.0 L470.5,361.0 L469.7,360.7 L469.0,360.0 L469.7,359.3 L470.5,359.0Z M466.7,367.0 L466.5,367.9 L465.7,367.6 L465.0,367.0 L465.7,366.4 L466.5,366.1Z M483.9,372.0 L483.6,372.8 L482.6,372.5 L481.8,372.0 L482.6,371.5 L483.6,371.2Z M431.7,338.0 L431.5,339.5 L430.7,339.0 L430.0,338.0 L430.7,337.0 L431.5,336.5Z M434.2,346.5 L434.0,347.6 L433.2,347.2 L432.5,346.5 L433.2,345.8 L434.0,345.4Z M437.3,358.5 L437.1,359.8 L436.1,359.4 L435.4,358.5 L436.1,357.6 L437.1,357.2Z M397.4,307.0 L396.8,307.9 L396.4,306.3 L396.4,304.6 L397.2,304.7 L397.8,305.5Z M402.3,311.5 L401.7,312.2 L401.5,310.7 L401.5,309.0 L402.2,309.3 L402.7,310.2Z M391.5,299.3 L390.8,300.2 L390.4,298.9 L390.3,297.4 L391.1,297.3 L391.8,297.9Z M411.3,314.7 L410.2,315.2 L408.9,314.8 L408.2,314.2 L409.8,314.0 L411.6,314.0Z M357.7,321.0 L357.5,321.6 L356.7,321.4 L356.0,321.0 L356.7,320.6 L357.5,320.4Z M363.0,313.0 L362.9,313.6 L362.2,313.4 L361.8,313.0 L362.2,312.6 L362.9,312.4Z M506.6,252.1 L509.1,251.0 L511.7,250.1 L513.7,252.2 L515.8,254.2 L518.5,252.8 L521.4,251.8 L523.9,250.1 L528.0,249.5 L526.2,252.3 L523.9,254.8 L521.9,256.9 L520.1,259.1 L517.8,260.9 L520.6,260.6 L523.3,260.9 L526.0,261.3 L526.7,263.8 L528.4,265.9 L529.0,268.5 L530.5,266.5 L532.6,265.2 L534.2,263.4 L536.9,261.5 L539.3,259.3 L542.5,258.0 L545.4,256.2 L545.4,252.7 L542.2,253.4 L539.3,254.8 L536.8,254.1 L534.2,253.5 L533.1,249.0 L535.4,247.3 L537.2,245.0 L539.3,242.9 L541.3,240.9 L543.5,239.0 L545.5,236.9 L547.7,235.0 L549.5,232.7 L551.5,231.1 L553.4,229.4 L555.7,228.2 L557.7,226.6 L556.0,229.1 L555.3,232.2 L553.6,234.7 L551.8,237.1 L550.5,239.9 L551.8,242.1 L553.6,243.9 L552.4,246.9 L551.5,250.1 L548.5,252.7 L550.5,255.2 L553.4,255.8 L556.1,256.8 L558.9,257.8 L561.8,258.2 L564.3,259.1 L566.8,259.9 L569.5,260.4 L572.0,261.3 L574.9,262.7 L578.1,263.4 L580.6,264.1 L582.8,265.5 L585.1,266.5 L587.5,267.5 L590.0,268.0 L592.3,269.3 L594.0,271.2 L596.2,272.6 L598.1,274.2 L600.0,276.0 L601.6,277.9 L603.3,279.8 L604.7,281.9 L606.0,284.0 L604.1,285.8 L602.2,287.5 L600.0,289.0 L597.5,289.7 L595.0,290.0 L592.5,290.2 L590.0,290.5 L587.0,290.3 L584.0,290.3 L581.1,290.0 L578.1,289.9 L575.6,290.2 L573.2,290.9 L570.6,290.7 L568.3,292.0 L565.8,292.0 L563.1,292.0 L560.4,291.0 L557.7,290.9 L555.1,291.0 L552.6,290.1 L550.0,290.2 L547.4,289.9 L545.0,291.3 L542.2,291.7 L539.7,293.0 L537.2,294.0 L534.6,295.5 L531.9,296.8 L529.7,298.9 L527.0,300.1 L525.0,302.2 L523.0,304.3 L520.9,306.3 L518.8,307.7 L516.6,308.7 L514.7,310.4 L511.8,310.1 L508.9,310.4 L506.1,309.6 L503.2,309.9 L500.4,309.3 L497.7,307.9 L494.9,306.7 L492.3,305.2 L490.7,302.7 L489.2,300.1 L489.5,297.5 L490.1,295.0 L491.0,292.5 L491.2,289.9 L491.9,287.2 L492.4,284.4 L493.3,281.8 L494.3,279.2 L495.6,276.8 L496.6,274.2 L497.4,271.5 L498.0,269.0 L498.5,266.4 L498.6,263.8 L499.4,261.3 L500.5,258.9 L501.8,256.7 L502.5,254.2Z M488.0,318.0 L494.0,316.5 L501.0,317.0 L507.0,320.0 L503.0,323.0 L496.0,324.5 L490.0,322.0Z M646.3,181.4 L649.0,182.3 L651.4,183.9 L652.3,186.5 L652.1,189.3 L652.9,191.9 L651.1,194.3 L649.6,196.8 L647.8,199.2 L646.2,202.0 L644.9,205.0 L646.9,207.3 L649.2,209.4 L647.1,210.7 L645.5,212.5 L643.4,213.8 L645.6,215.6 L648.3,216.7 L650.7,218.2 L653.0,219.8 L655.8,220.8 L658.0,222.6 L660.9,222.0 L663.8,221.8 L666.8,221.8 L668.0,224.1 L669.3,226.4 L671.1,228.4 L672.9,230.4 L674.0,232.8 L673.4,230.4 L672.9,228.0 L672.6,225.5 L674.1,223.3 L675.5,221.1 L678.1,220.2 L680.6,218.9 L680.6,282.4 L678.0,283.5 L675.4,284.3 L672.6,284.6 L670.5,283.3 L668.1,282.3 L666.0,280.9 L665.0,278.7 L663.8,276.5 L662.4,274.5 L661.6,272.2 L660.9,269.3 L660.9,266.3 L660.1,263.4 L659.5,260.5 L660.7,258.4 L662.6,256.8 L663.8,254.7 L660.9,254.1 L658.0,253.9 L655.8,252.1 L653.1,251.2 L650.7,249.6 L648.4,248.2 L646.0,246.9 L643.4,245.9 L641.3,244.2 L639.0,243.1 L636.8,241.6 L634.6,240.1 L632.8,238.2 L631.5,235.9 L629.5,234.2 L628.4,231.3 L627.3,228.4 L624.0,227.5 L620.8,226.2 L620.4,223.0 L621.1,219.9 L620.8,216.7 L622.1,214.7 L623.4,212.6 L625.1,210.9 L626.4,208.1 L627.4,205.1 L628.1,202.1 L628.9,199.7 L629.2,197.1 L630.3,194.8 L632.5,192.5 L634.0,189.8 L636.1,187.5 L638.4,185.8 L641.0,184.5 L643.4,183.1Z"/>
<path class="bd" d="M361.7,160.0 L361.3,157.3 L361.3,154.6 L360.5,152.0 L361.3,149.0 L362.0,146.0 L361.0,143.4 L360.7,140.6 L359.5,138.0 L359.6,134.6 L360.8,131.3 L361.5,128.0 L361.3,124.6 L360.4,121.3 L360.0,118.0 L360.6,115.2 L361.4,112.6 L362.5,110.0 L362.0,106.7 L361.9,103.3 L361.0,100.0 L362.9,97.5 L364.1,94.5 L366.0,92.0 L366.6,89.3 L366.9,86.6 L368.0,84.0 L369.8,80.9 L372.0,78.0 L372.9,75.4 L373.0,72.6 L374.0,70.0 L375.4,67.2 L377.1,64.5 L379.0,62.0 L380.1,59.6 L381.2,57.1 L382.5,54.7 L383.0,52.0 L385.0,50.2 L386.7,48.1 L388.2,45.9 L390.0,44.0 L392.4,41.9 L395.0,40.0 L396.0,36.3 L398.0,33.0 L400.9,30.9 L404.0,29.0 L407.1,28.2 L410.0,27.0"/>
<path class="bd" d="M411.6,63.4 L410.8,60.6 L410.2,57.7 L409.0,55.0 L407.8,52.4 L407.4,49.5 L406.0,47.0 L405.6,44.0 L405.1,40.9 L404.0,38.0 L401.6,35.4 L399.0,33.0"/>
<path class="bd" d="M410.0,27.0 L412.4,24.8 L414.0,22.0 L419.0,21.0 L420.9,18.7 L422.0,16.0 L427.0,16.0"/>
<path class="bd" d="M422.0,20.4 L422.2,23.8 L422.8,27.3 L423.0,30.7 L424.4,33.5 L426.9,35.6 L428.5,38.3 L430.2,40.9 L430.0,43.7 L430.4,46.4 L431.2,49.0 L433.0,51.9 L435.2,54.5 L437.4,57.2 L438.2,59.9 L438.4,62.7 L439.4,65.4 L440.9,68.0 L442.9,70.3 L444.2,72.9 L445.5,75.6 L448.2,77.4 L450.2,79.8 L452.7,81.8 L453.3,85.2 L453.7,88.6 L453.7,92.0 L452.2,94.9 L451.3,98.0 L451.1,101.3 L449.6,104.2 L448.2,106.8 L446.6,109.2 L445.5,112.0 L443.5,113.5"/>
<path class="bd" d="M447.0,121.0 L447.5,123.6 L448.5,126.0 L447.0,130.0 L447.8,132.8 L448.7,135.6 L450.1,138.2 L449.8,141.2 L450.1,144.3"/>
<path class="bd" d="M430.0,144.5 L432.7,145.3 L435.2,143.7 L437.8,142.3 L440.7,144.1 L443.9,145.3 L447.0,145.1 L450.1,144.3"/>
<path class="bd" d="M450.1,144.3 L451.9,146.8 L453.1,149.6 L454.2,152.5 L456.1,155.4 L457.2,158.6"/>
<path class="bd" d="M416.3,164.7 L418.8,163.7 L421.5,163.2 L423.9,161.9 L426.6,161.7 L429.4,161.0 L432.2,161.6 L435.0,160.7 L437.8,160.7 L440.6,162.7 L443.9,163.7 L447.5,164.5 L451.1,164.7 L453.4,163.0 L455.5,161.0 L457.2,158.6"/>
<path class="bd" d="M451.1,164.7 L449.9,167.4 L449.2,170.2 L448.0,172.9 L447.7,175.6 L448.4,178.4 L448.0,181.1 L445.8,183.1 L443.4,184.6 L440.9,186.2 L438.4,187.2 L435.8,188.2"/>
<path class="bd" d="M417.4,176.0 L420.4,176.8 L423.5,177.3 L426.6,178.0 L428.2,181.1 L429.6,184.2 L426.7,184.2 L423.9,184.8 L421.0,185.0 L418.1,185.2 L415.2,184.6 L412.3,185.2"/>
<path class="bd" d="M429.6,184.2 L432.8,186.0 L435.8,188.2"/>
<path class="bd" d="M457.2,158.6 L460.6,158.7 L464.0,158.4 L467.4,157.6 L470.1,158.7 L473.1,159.2 L475.6,160.7 L477.6,164.0 L478.7,167.8 L480.7,170.2 L483.6,171.7 L485.8,173.9 L488.1,175.7 L490.8,177.0 L493.0,179.0 L490.8,181.0 L488.1,182.4 L485.8,184.2 L487.5,187.1 L488.1,190.5 L489.9,193.4"/>
<path class="bd" d="M489.9,193.4 L485.8,195.4 L486.1,198.1 L486.1,200.9 L485.8,203.6 L483.1,203.8 L480.5,204.0 L477.9,204.9 L475.2,204.8 L472.7,206.1 L470.1,206.7 L467.4,206.6 L464.3,206.8 L461.3,207.1 L458.2,207.1 L455.2,206.6 L452.4,207.1 L449.6,207.8 L446.8,208.3 L443.9,208.7 L439.9,211.8"/>
<path class="bd" d="M435.8,188.2 L436.9,190.6 L437.6,193.1 L438.8,195.4 L438.6,198.3 L437.5,200.9 L436.8,203.6 L437.5,206.5 L438.7,209.1 L439.9,211.8 L441.2,214.4 L442.9,216.7 L443.7,219.5 L445.0,222.0 L443.5,224.4 L443.1,227.2 L441.9,229.6 L440.9,232.2 L439.8,234.8 L438.9,237.4 L437.8,240.0"/>
<path class="bd" d="M489.9,193.4 L492.3,191.8 L494.8,190.5 L497.7,189.7 L500.1,188.2 L502.6,189.2 L505.3,189.3 L507.0,191.6 L508.3,194.3 L510.4,196.4 L513.1,196.3 L515.9,196.6 L518.5,197.4 L520.7,199.9 L522.6,202.6 L525.3,201.7 L528.0,201.4 L530.8,201.5 L534.9,198.5 L537.5,200.0 L540.0,201.5 L543.1,203.7 L546.0,206.0 L549.5,206.9 L553.0,208.0 L554.6,211.0 L556.0,214.0 L554.6,216.5 L553.5,219.1 L553.0,222.0 L555.1,224.6 L557.7,226.6"/>
<path class="bd" d="M377.3,194.6 L377.9,197.8 L378.6,201.0 L379.1,204.3 L379.3,207.3 L380.3,210.1 L380.8,213.0 L381.8,216.5 L382.6,220.0 L383.5,223.0 L383.5,226.2"/>
<path class="bd" d="M383.5,226.2 L380.7,227.0 L378.0,228.1 L375.6,229.7 L372.8,230.7 L370.1,231.8 L367.7,233.5 L365.1,234.9 L366.6,238.1 L368.6,241.1 L370.9,244.0 L373.8,246.3 L376.7,248.7 L379.1,251.6"/>
<path class="bd" d="M383.5,226.2 L386.4,227.9 L389.6,228.8 L391.7,230.4 L394.1,231.4 L396.6,232.3 L400.0,233.3 L403.6,233.2 L407.1,234.6 L410.6,235.8 L412.6,237.8 L415.0,239.3"/>
<path class="bd" d="M415.0,239.3 L418.5,238.7 L422.0,238.5 L424.5,239.9 L427.3,240.6 L430.0,241.5 L432.5,240.6 L435.2,240.7 L437.8,240.0"/>
<path class="bd" d="M379.1,251.6 L381.6,250.8 L383.9,249.4 L386.1,248.1 L389.5,249.0 L393.1,248.9 L396.6,249.3 L400.1,249.8"/>
<path class="bd" d="M400.1,249.8 L401.5,247.3 L403.6,245.4 L406.4,243.4 L408.9,241.1 L411.9,240.0 L415.0,239.3"/>
<path class="bd" d="M379.1,251.6 L376.2,253.0 L373.8,255.1 L370.3,258.6 L372.1,263.0 L368.6,263.7 L365.1,264.7 L361.5,265.1 L358.1,266.5 L355.5,267.0 L352.8,267.3"/>
<path class="bd" d="M400.1,249.8 L401.0,252.4 L401.0,255.1 L399.5,257.6 L398.4,260.3 L397.7,263.8 L396.6,267.3 L396.6,269.1 L393.9,270.4 L392.3,273.0 L389.6,274.3 L386.5,274.8 L383.5,275.2 L380.4,275.3 L377.3,275.2 L374.8,273.8 L372.1,272.6 L368.6,271.2 L365.1,270.0 L362.0,269.7 L358.9,270.3 L355.9,271.0 L352.8,270.8"/>
<path class="bd" d="M330.9,199.9 L331.3,203.0 L331.8,206.0 L330.1,208.7 L328.3,211.3 L328.7,213.9 L329.2,216.5 L326.8,218.6 L323.9,220.0 L322.9,222.6 L323.0,225.3"/>
<path class="bd" d="M308.1,220.9 L311.2,221.3 L314.3,221.8 L316.8,222.6 L319.5,222.7 L323.0,225.3"/>
<path class="bd" d="M323.0,225.3 L321.8,227.8 L321.3,230.6 L322.5,233.3 L323.9,235.8 L321.3,239.3 L324.8,242.8"/>
<path class="bd" d="M299.4,224.4 L302.0,226.2 L303.8,228.8 L306.3,231.1 L309.0,233.2 L311.7,235.3 L314.3,237.6 L317.0,238.6 L319.5,240.2 L321.3,239.3"/>
<path class="bd" d="M324.8,242.8 L327.5,244.4 L330.0,246.3 L333.5,247.6 L337.0,248.9 L337.1,252.1 L336.2,255.1 L334.8,258.5 L334.4,262.1"/>
<path class="bd" d="M341.4,195.5 L345.8,198.1 L349.0,196.0"/>
<path class="bd" d="M400.1,254.9 L402.6,256.3 L405.3,256.8 L408.0,257.5 L411.6,256.4 L415.0,254.9 L417.9,253.1 L421.1,251.8 L423.8,249.6 L426.8,248.6 L430.0,248.5 L433.0,247.6 L436.1,247.0"/>
<path class="bd" d="M436.1,247.0 L436.8,243.5 L437.8,240.0"/>
<path class="bd" d="M436.1,247.0 L438.5,248.1 L440.6,249.7 L443.1,250.5 L446.1,251.2 L449.2,250.9 L452.3,250.8 L455.3,251.4 L458.1,250.2 L460.4,248.0 L463.4,247.2 L465.8,245.3 L468.4,244.4 L471.1,243.5"/>
<path class="bd" d="M471.1,243.5 L472.7,245.8 L475.0,247.6 L476.7,249.9 L478.1,252.3 L479.9,255.2 L481.8,258.0 L483.4,261.0 L484.3,263.7 L485.3,266.5 L486.9,268.9"/>
<path class="bd" d="M471.1,243.5 L473.8,243.3 L476.3,242.2 L478.9,241.8 L481.6,241.8 L484.0,243.5 L486.4,245.1 L488.6,247.0 L490.2,249.5 L491.7,252.0 L493.9,254.0 L494.4,256.8 L495.6,259.3 L492.4,260.9 L489.5,262.8 L487.9,265.7 L486.9,268.9"/>
<path class="bd" d="M486.9,268.9 L489.4,270.0 L492.1,270.7 L494.8,269.4 L497.4,268.0"/>
<path class="bd" d="M436.1,247.0 L437.5,250.5 L438.7,254.0 L437.3,256.3 L436.1,258.7 L435.5,261.4 L434.8,264.0 L433.4,266.3 L431.1,268.7 L429.6,271.8 L427.3,274.2"/>
<path class="bd" d="M397.5,259.3 L397.4,261.9 L397.5,264.6 L397.1,267.2 L396.6,269.8 L398.9,271.3 L400.4,273.6 L402.8,275.0 L404.9,276.9 L407.5,277.8 L409.8,279.4 L413.4,278.9 L416.8,277.7 L419.3,275.8 L422.0,274.2 L424.6,273.7 L427.3,274.2"/>
<path class="bd" d="M427.3,274.2 L428.6,277.1 L430.9,279.4 L432.6,282.0 L435.4,284.0 L437.8,286.4 L441.3,287.4 L444.8,288.2 L446.6,292.6"/>
<path class="bd" d="M446.6,292.6 L450.1,296.1 L453.0,296.3 L455.9,296.6 L458.8,296.1 L462.0,295.5 L465.1,294.8 L467.9,293.0 L471.1,292.6 L474.0,290.8 L477.2,289.4 L479.9,287.3 L482.8,287.5 L485.7,287.1 L488.6,286.4 L493.0,287.3"/>
<path class="bd" d="M446.6,292.6 L446.0,295.2 L445.7,297.8 L447.5,300.8 L450.1,303.1 L449.3,305.6 L449.2,308.3 L450.1,312.7"/>
<path class="bd" d="M377.3,275.2 L378.4,278.1 L379.7,280.9 L380.9,283.8 L383.9,284.7 L387.0,285.5 L389.6,283.3 L392.3,281.2 L394.5,279.1 L396.6,276.8 L396.7,273.3 L396.6,269.8"/>
<path class="bd" d="M394.9,287.3 L397.5,287.6 L400.2,287.9 L402.8,288.2 L405.7,287.8 L408.6,286.9 L411.5,286.4 L414.2,286.3 L416.8,287.0 L419.4,287.3"/>
<path class="bd" d="M394.9,287.3 L396.2,290.8 L397.5,294.3 L399.2,296.4 L400.9,298.5 L402.8,300.4 L404.9,303.0 L407.2,305.4 L408.9,308.3 L412.0,311.0"/>
<path class="bd" d="M416.8,277.7 L417.9,280.8 L418.6,284.1 L419.4,287.3 L420.4,290.8 L421.2,294.3 L422.5,297.7 L422.9,301.3 L420.3,303.9 L417.7,306.6 L416.7,310.0 L416.8,313.6"/>
<path class="bd" d="M422.9,301.3 L424.8,303.8 L427.1,305.9 L429.1,308.3 L431.7,310.1 L429.2,312.0 L426.4,313.6 L425.0,315.9 L424.5,318.5"/>
<path class="bd" d="M431.7,310.1 L432.8,313.7 L434.3,317.1"/>
<path class="bd" d="M431.7,310.1 L434.5,308.2 L437.0,306.0 L441.0,309.0 L439.6,313.6"/>
<path class="bd" d="M434.3,317.1 L437.1,315.6 L439.6,313.6 L442.2,313.3 L444.9,313.2 L447.5,313.2 L450.1,312.7 L451.9,315.7 L453.6,318.8 L452.3,321.1 L451.1,323.4 L450.1,325.8 L447.4,325.9 L444.9,326.9 L442.3,327.6 L439.6,327.6 L437.1,325.7 L435.2,323.2 L435.2,320.1 L434.3,317.1"/>
<path class="bd" d="M426.4,313.6 L427.0,317.1 L427.3,320.6 L429.8,321.8 L432.6,322.2 L435.2,323.2 L435.9,325.8 L436.1,328.4 L436.1,331.1 L434.6,333.7 L432.6,336.0"/>
<path class="bd" d="M450.1,325.8 L453.1,324.9 L455.9,323.5 L458.8,322.3 L461.9,322.2 L465.0,321.7 L468.0,321.0 L471.1,320.6 L473.8,320.6 L476.4,319.9 L478.9,318.9 L481.6,318.8 L483.8,316.5 L485.1,313.6"/>
<path class="bd" d="M485.1,313.6 L487.3,312.2 L489.8,311.4 L492.1,310.1 L493.9,307.5"/>
<path class="bd" d="M485.1,313.6 L484.8,316.5 L483.9,319.4 L483.4,322.3 L481.6,324.7 L480.7,327.6"/>
<path class="bd" d="M331.0,304.0 L329.7,301.6 L328.6,299.2 L327.0,297.0 L328.5,293.5 L330.0,290.0 L328.1,286.9 L326.0,284.0 L324.1,281.9 L322.0,280.0"/>
<path class="bd" d="M352.8,270.8 L354.1,273.6 L356.0,276.0 L358.8,277.6 L362.0,278.5 L364.7,278.6 L367.4,278.4 L370.0,278.0 L372.5,277.3 L374.8,275.9 L377.3,275.2"/>
<path class="bd" d="M201.6,305.4 L204.1,306.3 L206.8,306.8 L209.4,307.3 L212.1,307.7 L214.8,310.3 L217.9,312.4 L216.1,314.6 L214.3,316.8 L213.2,319.4 L212.7,322.5 L212.0,325.6 L212.1,328.7 L209.5,331.4 L206.2,333.4 L206.8,336.5 L207.4,339.6 L207.4,342.7 L206.2,345.3 L204.1,347.2 L202.7,349.7 L202.1,352.4 L201.6,355.1 L201.6,357.9"/>
<path class="bd" d="M259.7,301.3 L262.0,303.0 L264.2,304.8 L266.4,306.6 L268.8,308.3 L271.4,309.5 L274.1,311.1 L277.3,311.8 L280.0,313.3 L283.1,314.1 L286.1,314.6 L289.1,315.2 L292.1,316.0 L295.0,317.0"/>
<path class="bd" d="M237.8,171.0 L238.6,173.6 L240.0,176.0 L244.0,178.5 L248.0,181.5 L251.0,181.0"/>
<path class="bd" d="M652.1,100.0 L654.1,103.3 L656.1,106.6 L659.2,106.5 L662.2,105.7 L665.3,105.3 L664.8,109.2 L665.3,113.1 L663.5,115.3 L661.5,117.2 L659.7,119.4 L657.4,121.0 L654.6,121.6 L652.0,122.6 L649.6,124.1 L646.9,125.0 L644.5,127.0 L643.2,129.8 L640.7,131.6 L639.0,134.2 L636.3,135.8 L634.0,138.1 L631.1,139.4 L628.5,139.3 L625.9,139.0 L623.2,139.7 L620.6,139.3 L618.0,139.4 L615.6,140.6 L613.3,142.1 L610.8,143.2 L608.7,144.9 L606.2,146.0 L605.2,148.6 L604.5,151.3 L602.7,153.7 L602.2,156.5 L602.3,159.2 L602.8,161.8 L603.5,164.3 L603.5,167.0 L600.4,167.7 L597.4,168.9 L594.3,169.6 L594.4,172.6 L594.8,175.6 L595.8,178.5 L595.6,181.5 L597.2,184.5 L597.8,187.8 L599.6,190.7 L602.2,191.3 L604.9,191.9 L607.5,192.5 L610.1,193.3 L613.0,194.6 L615.1,197.0 L617.7,198.5 L620.6,199.8 L624.3,200.8 L628.0,202.0"/>
<path class="bd" d="M680.9,35.8 L678.2,34.7 L675.3,34.0 L672.7,32.7 L670.3,34.4 L667.7,35.8 L665.6,37.8 L665.3,40.7 L664.4,43.4 L664.2,46.2 L663.5,49.0 L662.4,51.6 L660.3,53.7 L658.8,56.1 L657.7,58.8 L656.4,61.3 L655.5,63.8 L653.8,66.0 L652.7,68.4 L651.9,71.0 L650.0,73.0 L649.2,75.6 L647.1,78.3 L644.8,80.8 L643.1,83.8 L645.4,86.1 L647.2,88.9 L652.3,89.9 L651.0,92.9 L650.3,96.1 L651.6,98.5 L652.1,101.1 L652.4,103.8 L653.3,106.3"/>
<path class="bd" d="M572.0,261.3 L574.9,260.3 L578.0,259.8 L581.1,259.3 L584.0,258.0 L586.7,257.1 L589.5,256.7 L592.3,256.4 L595.3,256.8 L598.0,256.0 L600.8,256.0 L603.6,256.7 L606.4,256.1 L609.2,256.9 L612.0,257.0 L614.8,256.6 L617.6,255.9 L620.4,255.8 L623.1,255.0 L626.0,255.0 L628.8,254.8 L631.6,254.5 L634.4,254.1 L637.2,253.7 L640.0,254.0 L642.5,253.1 L644.8,251.6 L647.4,250.7 L650.0,250.0"/>
<path class="bd" d="M606.0,284.0 L608.8,281.6 L612.0,280.0 L615.4,280.5 L618.6,281.6 L622.0,282.0 L624.6,280.5 L627.3,279.2 L630.0,278.0 L633.3,278.7 L636.7,279.3 L640.0,280.0 L642.5,278.4 L645.5,277.7 L648.0,276.0 L650.8,277.1 L653.1,279.1 L656.0,280.0 L658.2,278.2 L660.3,276.3 L662.0,274.0"/>
<path class="bd" d="M630.0,278.0 L631.1,280.5 L631.6,283.2 L633.5,285.3 L634.0,288.0 L636.4,290.4 L639.2,292.1 L642.0,294.0 L644.6,293.2 L647.4,292.8 L650.0,292.0 L652.8,293.1 L655.1,295.1 L658.0,296.0 L660.4,293.6 L663.5,292.3 L666.0,290.0 L668.0,287.9 L670.2,286.2 L672.6,284.6"/>
<path class="bd" d="M573.5,352.8 L576.4,352.2 L579.3,351.6 L582.1,350.8 L585.0,350.3 L588.0,350.0 L590.9,350.9 L593.9,351.5 L597.0,351.5 L600.0,352.0 L603.0,351.4 L606.0,351.0 L608.9,350.2 L612.0,350.0 L615.1,350.0 L618.0,350.8 L621.0,351.3 L624.0,352.0 L627.0,351.1 L630.2,350.5 L633.0,349.1 L636.0,348.0 L638.9,348.4 L641.6,349.7 L644.3,350.7 L647.3,350.7 L650.0,352.0 L652.3,350.2 L655.3,349.5 L657.6,347.7 L660.0,346.0 L662.4,343.6 L663.8,340.5 L666.0,338.0"/>
<path class="bd" d="M650.0,292.0 L651.4,294.9 L652.3,297.9 L652.6,301.1 L654.0,304.0 L655.4,306.3 L656.5,308.7 L657.2,311.4 L658.6,313.7 L660.0,316.0 L660.7,319.1 L661.8,322.1 L662.9,325.0 L664.0,328.0 L664.3,331.4 L665.3,334.7 L666.0,338.0 L666.9,340.5 L668.7,342.7 L669.3,345.3 L670.9,347.6 L672.0,350.0 L674.3,351.4 L676.3,353.3 L678.6,354.7 L681.0,356.0"/>
<path class="bd" d="M636.0,348.0 L634.3,350.4 L632.9,352.9 L631.3,355.3 L629.4,357.5 L628.0,360.0 L626.9,362.8 L625.4,365.4 L624.4,368.2 L622.3,370.5 L621.6,373.5 L620.0,376.0"/>
<path class="bd" d="M620.0,376.0 L621.1,373.2 L622.8,370.9 L624.7,368.6 L626.0,366.0 L627.6,368.8 L629.8,371.2 L632.3,373.2 L634.0,376.0"/>
<path class="bd" d="M577.3,364.4 L580.1,363.6 L583.0,363.0 L584.5,366.0 L582.5,368.4 L581.0,371.1 L580.0,374.0"/>
<path d="M320.5,278.9 L322.0,274.6 L324.9,270.9 L327.8,267.3 L330.8,265.1 L335.1,263.9 L338.8,261.4 L341.7,262.9 L346.1,263.6 L349.7,265.1 L351.9,268.0 L351.2,270.2 L354.1,270.9 L353.4,274.6 L351.2,275.3 L351.2,278.2 L348.3,277.5 L345.4,276.7 L343.2,278.9 L342.4,282.6 L338.8,279.7 L335.9,276.7 L332.2,279.7 L330.0,281.9 L326.4,281.1 L324.9,277.5 L322.7,276.7 L321.3,279.7Z" fill="none" stroke="#000" stroke-width="2" stroke-linejoin="round"/>
<circle cx="339.2" cy="265.8" r="2.4" fill="#f01010"/>
</g>
<rect x="577.6" y="263.4" width="72.1" height="89.3" fill="#fff" stroke="#2a2a2a" stroke-width="1"/>
<rect x="587" y="271.0" width="12.2" height="12.6" fill="#cfe8f1" stroke="#2a2a2a" stroke-width="0.8"/>
<text class="lg" style="font-size:16px" x="605.3" y="282.7">1960</text>
<rect x="587" y="291.6" width="12.2" height="12.6" fill="#a4d2e4" stroke="#2a2a2a" stroke-width="0.8"/>
<text class="lg" style="font-size:16px" x="605.3" y="303.4">1980</text>
<rect x="587" y="312.3" width="12.2" height="12.6" fill="#7bc1dc" stroke="#2a2a2a" stroke-width="0.8"/>
<text class="lg" style="font-size:16px" x="605.3" y="324.0">2000</text>
<rect x="587" y="332.9" width="12.2" height="12.6" fill="#51a6d1" stroke="#2a2a2a" stroke-width="0.8"/>
<text class="lg" style="font-size:16px" x="605.3" y="344.7">2024</text>
<rect x="147.85" y="2.4" width="534" height="372.6" fill="none" stroke="#000" stroke-width="2.4"/>
<text class="pl" x="678.5" y="26.0" text-anchor="end">a)</text>
<path d="M171.8,508.3 L171.8,464.5 L191.2,508.3 L210.7,478.5 L230.2,472.6 L249.6,481.3 L269.1,498.9 L288.5,484.8 L308.0,486.3 L327.4,465.6 L346.9,462.1 L366.3,465.2 L385.8,447.4 L405.2,461.4 L424.6,462.4 L444.1,464.9 L463.6,401.0 L483.0,439.9 L502.4,429.9 L521.9,398.5 L541.4,410.0 L560.8,420.0 L580.2,414.0 L599.7,454.9 L619.1,442.4 L638.6,408.5 L658.0,416.0 L658.0,508.3Z" fill="#cfcfcf"/>
<path d="M171.8,508.3 L171.8,538.1 L191.2,508.3 L210.7,518.8 L230.2,518.8 L249.6,511.1 L269.1,498.9 L288.5,511.8 L308.0,494.3 L327.4,522.3 L346.9,517.1 L366.3,514.3 L385.8,503.8 L405.2,519.8 L424.6,519.8 L444.1,507.3 L463.6,506.3 L483.0,507.3 L502.4,504.8 L521.9,486.3 L541.4,512.3 L560.8,497.3 L580.2,508.8 L599.7,498.8 L619.1,503.8 L638.6,493.8 L658.0,552.2 L658.0,508.3Z" fill="#548fb3"/>
<path d="M171.8,464.20 L191.2,508.30 L210.7,477.90 L230.2,471.85 L249.6,480.55 L269.1,498.40 L288.5,483.60 L308.0,485.30 L327.4,463.80 L346.9,460.20 L366.3,463.30 L385.8,446.00 L405.2,459.50 L424.6,460.60 L444.1,463.50 L463.6,400.55 L483.0,439.60 L502.4,429.60 L521.9,398.25 L541.4,409.60 L560.8,419.65 L580.2,413.80 L599.7,454.70 L619.1,442.20 L638.6,408.30 L658.0,415.80 L658.0,416.10 L638.6,408.60 L619.1,442.50 L599.7,455.00 L580.2,414.10 L560.8,420.10 L541.4,410.10 L521.9,398.60 L502.4,430.00 L483.0,440.00 L463.6,401.10 L444.1,465.00 L424.6,462.50 L405.2,461.50 L385.8,447.50 L366.3,465.30 L346.9,462.20 L327.4,465.70 L308.0,486.40 L288.5,484.90 L269.1,499.00 L249.6,481.40 L230.2,472.70 L210.7,478.60 L191.2,508.40 L171.8,464.60Z" fill="#ff2a1a"/>
<line x1="148.5" y1="508.3" x2="676.5" y2="508.3" stroke="#000" stroke-width="1.3" stroke-dasharray="5.2,3.08"/>
<path d="M171.8,495.0 L191.2,508.3 L210.7,490.1 L230.2,483.8 L249.6,484.8 L269.1,498.9 L288.5,489.1 L308.0,485.5 L327.4,479.6 L346.9,471.5 L366.3,472.2 L385.8,447.4 L405.2,472.4 L424.6,473.4 L444.1,464.9 L463.6,401.0 L483.0,439.9 L502.4,429.9 L521.9,398.5 L541.4,411.5 L560.8,421.4 L580.2,414.0 L599.7,454.9 L619.1,442.4 L638.6,408.5 L658.0,459.9" fill="none" stroke="#000" stroke-width="1.3" stroke-linejoin="miter"/>
<rect class="ax" x="147.3" y="387.3" width="535.0999999999999" height="177.90000000000003"/>
<line class="ax" x1="147.3" y1="410.0" x2="155.10000000000002" y2="410.0"/>
<text class="tk" x="134.9" y="417.9" text-anchor="end">10000</text>
<line class="ax" x1="147.3" y1="458.8" x2="155.10000000000002" y2="458.8"/>
<text class="tk" x="134.9" y="466.7" text-anchor="end">5000</text>
<line class="ax" x1="147.3" y1="508.3" x2="155.10000000000002" y2="508.3"/>
<text class="tk" x="134.9" y="516.2" text-anchor="end">0</text>
<line class="ax" x1="147.3" y1="557.4" x2="155.10000000000002" y2="557.4"/>
<text class="tk" x="134.9" y="565.3" text-anchor="end">−5000</text>
<line class="ax" x1="189.5" y1="565.2" x2="189.5" y2="557.4000000000001"/>
<line class="ax" x1="228.3" y1="565.2" x2="228.3" y2="557.4000000000001"/>
<line class="ax" x1="271.3" y1="565.2" x2="271.3" y2="557.4000000000001"/>
<line class="ax" x1="312.9" y1="565.2" x2="312.9" y2="557.4000000000001"/>
<line class="ax" x1="355.9" y1="565.2" x2="355.9" y2="557.4000000000001"/>
<line class="ax" x1="397.5" y1="565.2" x2="397.5" y2="557.4000000000001"/>
<line class="ax" x1="440.5" y1="565.2" x2="440.5" y2="557.4000000000001"/>
<line class="ax" x1="483.4" y1="565.2" x2="483.4" y2="557.4000000000001"/>
<line class="ax" x1="525.0" y1="565.2" x2="525.0" y2="557.4000000000001"/>
<line class="ax" x1="568.0" y1="565.2" x2="568.0" y2="557.4000000000001"/>
<line class="ax" x1="609.6" y1="565.2" x2="609.6" y2="557.4000000000001"/>
<line class="ax" x1="652.6" y1="565.2" x2="652.6" y2="557.4000000000001"/>
<line x1="163.2" y1="399.3" x2="182" y2="399.3" stroke="#000" stroke-width="1.7"/>
<rect x="166.1" y="413.0" width="13.3" height="12.8" fill="#cfcfcf" stroke="#000" stroke-width="1.2"/>
<rect x="166.1" y="431.6" width="13.3" height="12.8" fill="#548fb3" stroke="#000" stroke-width="1.2"/>
<rect x="166.1" y="450.2" width="13.3" height="12.8" fill="#ff1a0a" stroke="#000" stroke-width="1.2"/>
<text class="lg" x="186.3" y="406.0">US-DS balance</text>
<text class="lg" x="186.3" y="424.9">Subsurface storage and infiltration</text>
<text class="lg" x="186.3" y="443.8">Wetland storage change</text>
<text class="lg" x="186.3" y="462.7">ET</text>
<text class="pl" x="677.8" y="413.0" text-anchor="end">b)</text>
<text class="tk" style="font-size:21px" transform="translate(17.4,470.5) rotate(-90)" text-anchor="middle">Water balance</text>
<text class="tk" style="font-size:21px" transform="translate(43.5,469.5) rotate(-90)" text-anchor="middle">(m<tspan dy="-8.5" style="font-size:14px">3</tspan><tspan dy="8.5"> day</tspan><tspan dy="-8.5" style="font-size:14px">-1</tspan><tspan dy="8.5">)</tspan></text>
<path d="M171.2,750.9 L171.2,628.6 C171.5,626.3 172.1,613.6 172.7,613.3 C173.3,613.0 174.5,625.6 175.3,626.6 C176.2,627.5 176.9,619.6 178.4,619.4 C179.9,619.3 183.7,622.6 185.5,625.5 C187.4,628.5 188.7,634.7 190.7,638.8 C192.6,643.0 196.4,649.0 198.8,653.1 C201.3,657.3 205.2,665.5 207.0,666.4 C208.8,667.3 209.9,660.3 211.1,659.3 C212.3,658.2 214.1,660.7 215.2,659.3 C216.3,657.8 217.0,650.9 218.2,649.7 C219.5,648.4 222.0,649.5 223.4,651.1 C224.7,652.7 226.2,658.0 227.4,660.3 C228.7,662.6 230.0,665.7 231.5,666.4 C233.1,667.2 235.8,664.8 237.7,665.4 C239.5,666.0 242.0,669.0 243.8,670.5 C245.6,672.0 248.2,674.4 249.9,675.6 C251.6,676.8 253.2,679.1 255.0,678.7 C256.9,678.2 259.9,672.6 262.2,672.6 C264.5,672.6 267.6,677.0 270.4,678.7 C273.1,680.4 278.3,684.6 280.6,683.8 C282.9,683.0 284.2,675.0 285.7,673.6 C287.2,672.2 289.4,676.4 290.8,674.6 C292.2,672.8 295.0,661.3 294.9,661.3 C294.8,661.3 290.1,674.6 290.0,674.6 C289.9,674.6 292.9,663.9 294.1,661.3 C295.3,658.7 297.0,658.1 298.2,657.2 C299.3,656.4 300.6,652.8 301.9,655.6 C303.1,658.3 304.5,670.9 306.3,675.6 C308.2,680.3 312.1,688.4 314.1,686.9 C316.1,685.3 318.2,669.5 319.6,665.4 C321.1,661.3 322.3,658.0 323.7,659.3 C325.1,660.5 327.6,673.9 328.8,673.6 C330.1,673.3 330.5,660.4 331.9,657.2 C333.3,654.1 336.3,650.1 338.0,652.5 C339.7,655.0 341.1,668.7 343.1,673.6 C345.1,678.4 348.9,683.7 351.3,684.8 C353.8,685.9 357.0,681.3 359.5,681.1 C361.9,681.0 365.5,684.0 367.7,683.8 C369.8,683.6 372.0,679.6 373.8,679.7 C375.6,679.9 377.5,682.2 379.9,684.8 C382.4,687.4 387.7,697.1 390.1,697.1 C392.6,697.1 394.7,687.0 396.3,684.8 C397.8,682.7 399.0,683.7 400.4,682.8 C401.7,681.9 403.8,679.1 405.5,678.7 C407.2,678.2 409.6,677.4 411.6,679.7 C413.6,682.0 417.5,691.7 418.8,694.0 C420.0,696.3 418.6,693.3 420.0,695.0 C421.4,696.7 426.0,704.5 428.2,705.3 C430.3,706.0 432.2,700.7 434.3,699.7 C436.5,698.8 440.2,699.4 442.5,699.1 C444.8,698.8 448.3,698.8 449.6,697.7 C451.0,696.6 450.3,691.6 451.3,692.0 C452.2,692.3 454.0,698.0 455.8,700.1 C457.5,702.3 460.9,706.6 462.9,706.3 C464.9,706.0 467.2,699.2 469.0,698.1 C470.9,697.0 473.9,697.9 475.2,699.1 C476.5,700.3 477.3,708.6 477.8,706.3 C478.3,704.0 477.9,685.8 478.5,683.8 C479.0,681.8 480.1,691.5 481.3,693.0 C482.5,694.5 485.5,692.0 486.4,694.0 C487.3,696.0 486.5,704.9 487.2,706.3 C488.0,707.7 490.4,705.0 491.5,703.2 C492.6,701.4 493.1,695.2 494.6,694.0 C496.1,692.8 499.5,695.1 501.7,695.0 C504.0,695.0 507.8,693.1 509.9,693.6 C512.1,694.1 514.5,699.9 516.1,698.1 C517.6,696.3 519.2,685.6 520.1,681.7 C521.1,677.9 521.3,674.3 522.2,672.6 C523.1,670.8 524.9,668.2 526.3,669.9 C527.7,671.6 529.7,680.9 531.4,683.8 C533.1,686.6 535.8,689.0 537.5,688.9 C539.2,688.8 541.5,684.2 542.6,683.4 C543.7,682.6 543.7,684.0 545.0,683.8 C546.3,683.5 549.6,684.7 551.1,681.7 C552.7,678.8 554.0,667.4 555.2,664.4 C556.4,661.3 557.8,659.5 559.3,661.3 C560.8,663.2 563.3,673.4 565.4,676.6 C567.6,679.9 571.2,682.9 573.6,682.8 C576.1,682.6 579.6,678.2 581.8,675.6 C583.9,673.0 586.1,667.6 587.9,665.4 C589.8,663.2 592.2,660.5 594.0,660.7 C595.9,660.9 598.3,665.6 600.2,666.4 C602.0,667.3 604.2,667.0 606.3,666.4 C608.5,665.8 612.3,662.8 614.5,662.3 C616.6,661.9 618.8,664.4 620.6,663.4 C622.5,662.3 624.9,657.0 626.7,655.2 C628.6,653.3 631.2,652.9 632.9,651.1 C634.6,649.3 636.2,644.1 638.0,642.9 C639.8,641.8 643.5,643.1 645.1,643.5 C646.8,644.0 648.0,644.1 649.2,646.0 C650.5,647.9 652.0,656.8 653.3,656.2 C654.6,655.6 657.3,644.0 658.0,641.9 L658.0,750.9Z" fill="#b927ff"/>
<path d="M171.2,750.9 L171.2,636.8 C171.5,635.6 172.1,627.8 172.7,628.6 C173.3,629.4 174.5,640.7 175.3,641.9 C176.2,643.1 176.9,636.8 178.4,636.8 C179.9,636.8 183.7,639.6 185.5,641.9 C187.4,644.2 188.7,648.6 190.7,652.1 C192.6,655.6 196.4,661.4 198.8,665.4 C201.3,669.4 205.2,677.5 207.0,678.7 C208.8,679.9 209.9,674.6 211.1,673.6 C212.3,672.5 214.1,672.8 215.2,671.5 C216.3,670.3 217.0,666.4 218.2,665.4 C219.5,664.4 222.0,663.9 223.4,665.0 C224.7,666.1 226.2,670.5 227.4,672.6 C228.7,674.6 230.0,677.9 231.5,678.7 C233.1,679.5 235.8,677.5 237.7,677.7 C239.5,677.8 242.0,678.6 243.8,679.7 C245.6,680.8 248.2,683.4 249.9,684.8 C251.6,686.2 253.2,689.2 255.0,688.9 C256.9,688.6 259.9,682.9 262.2,682.8 C264.5,682.6 267.6,686.3 270.4,687.9 C273.1,689.4 278.3,693.4 280.6,693.0 C282.9,692.5 284.2,686.0 285.7,684.8 C287.2,683.6 289.4,686.2 290.8,684.8 C292.2,683.4 295.0,675.5 294.9,675.6 C294.8,675.8 290.1,685.8 290.0,685.8 C289.9,685.8 292.9,677.9 294.1,675.6 C295.3,673.3 297.0,671.7 298.2,670.5 C299.3,669.3 300.6,665.5 301.9,667.4 C303.1,669.4 304.5,679.7 306.3,683.8 C308.2,687.9 312.1,696.1 314.1,695.0 C316.1,694.0 318.2,680.3 319.6,676.6 C321.1,673.0 322.3,669.6 323.7,670.5 C325.1,671.4 327.6,682.8 328.8,682.8 C330.1,682.8 330.5,673.3 331.9,670.5 C333.3,667.7 336.3,662.5 338.0,664.4 C339.7,666.2 341.1,678.2 343.1,682.8 C345.1,687.4 348.9,693.8 351.3,695.0 C353.8,696.3 357.0,690.9 359.5,690.9 C361.9,690.9 365.5,695.2 367.7,695.0 C369.8,694.9 372.0,690.1 373.8,689.9 C375.6,689.8 377.5,692.0 379.9,694.0 C382.4,696.0 387.7,703.1 390.1,703.2 C392.6,703.4 394.7,696.6 396.3,695.0 C397.8,693.5 399.0,693.6 400.4,693.0 C401.7,692.4 403.8,691.6 405.5,690.9 C407.2,690.3 409.6,687.5 411.6,688.9 C413.6,690.3 417.5,698.0 418.8,700.1 C420.0,702.3 418.6,701.7 420.0,703.2 C421.4,704.7 426.0,709.9 428.2,710.4 C430.3,710.8 432.2,706.8 434.3,706.3 C436.5,705.7 440.2,707.0 442.5,706.7 C444.8,706.4 448.3,704.8 449.6,704.2 C451.0,703.7 450.3,702.9 451.3,703.2 C452.2,703.5 454.0,705.0 455.8,706.3 C457.5,707.5 460.9,711.4 462.9,711.4 C464.9,711.4 467.2,707.2 469.0,706.3 C470.9,705.4 473.9,704.8 475.2,705.3 C476.5,705.7 477.3,710.1 477.8,709.3 C478.3,708.6 477.9,701.5 478.5,700.1 C479.0,698.8 480.1,700.1 481.3,700.1 C482.5,700.2 485.5,699.0 486.4,700.6 C487.3,702.1 486.5,709.0 487.2,710.4 C488.0,711.7 490.4,710.4 491.5,709.3 C492.6,708.3 493.1,704.0 494.6,703.2 C496.1,702.4 499.5,704.5 501.7,704.2 C504.0,703.9 507.8,700.9 509.9,701.2 C512.1,701.5 514.5,707.7 516.1,706.3 C517.6,704.9 519.2,695.3 520.1,692.0 C521.1,688.6 521.3,685.6 522.2,683.8 C523.1,682.0 524.9,678.3 526.3,679.7 C527.7,681.1 529.7,690.2 531.4,693.0 C533.1,695.7 535.8,697.9 537.5,698.1 C539.2,698.3 541.5,695.2 542.6,694.4 C543.7,693.7 543.7,693.5 545.0,693.0 C546.3,692.5 549.6,693.4 551.1,690.9 C552.7,688.5 554.0,679.4 555.2,676.6 C556.4,673.9 557.8,671.3 559.3,672.6 C560.8,673.8 563.3,681.7 565.4,684.8 C567.6,687.9 571.2,692.7 573.6,693.0 C576.1,693.3 579.6,689.0 581.8,686.9 C583.9,684.7 586.1,680.8 587.9,678.7 C589.8,676.5 592.2,672.7 594.0,672.6 C595.9,672.4 598.3,676.7 600.2,677.7 C602.0,678.6 604.2,679.0 606.3,678.7 C608.5,678.4 612.3,675.9 614.5,675.6 C616.6,675.3 618.8,677.4 620.6,676.6 C622.5,675.9 624.9,671.9 626.7,670.5 C628.6,669.1 631.2,669.3 632.9,667.4 C634.6,665.6 636.2,659.6 638.0,658.2 C639.8,656.9 643.5,658.3 645.1,658.7 C646.8,659.0 648.0,658.7 649.2,660.3 C650.5,661.9 652.0,669.8 653.3,669.5 C654.6,669.2 657.3,659.9 658.0,658.2 L658.0,750.9Z" fill="#abdcf6"/>
<path d="M171.2,750.9 L171.2,643.9 C171.5,642.7 172.1,635.0 172.7,635.8 C173.3,636.5 174.5,647.4 175.3,649.0 C176.2,650.7 176.9,646.7 178.4,647.0 C179.9,647.3 183.7,648.9 185.5,651.1 C187.4,653.2 188.7,658.2 190.7,661.3 C192.6,664.4 196.4,668.3 198.8,671.5 C201.3,674.7 205.2,681.9 207.0,682.8 C208.8,683.7 209.9,678.6 211.1,677.7 C212.3,676.7 214.1,677.7 215.2,676.6 C216.3,675.6 217.0,671.4 218.2,670.5 C219.5,669.6 222.0,669.6 223.4,670.5 C224.7,671.4 226.2,675.0 227.4,676.6 C228.7,678.3 230.0,680.8 231.5,681.7 C233.1,682.7 235.8,682.5 237.7,682.8 C239.5,683.0 242.0,682.6 243.8,683.4 C245.6,684.2 248.2,686.6 249.9,687.9 C251.6,689.2 253.2,692.3 255.0,692.0 C256.9,691.7 259.9,686.1 262.2,685.8 C264.5,685.5 267.6,688.5 270.4,689.9 C273.1,691.3 278.3,695.3 280.6,695.0 C282.9,694.7 284.2,689.0 285.7,687.9 C287.2,686.8 289.4,689.3 290.8,687.9 C292.2,686.5 295.0,678.5 294.9,678.7 C294.8,678.8 290.1,688.9 290.0,688.9 C289.9,688.9 292.9,681.0 294.1,678.7 C295.3,676.4 297.0,674.8 298.2,673.6 C299.3,672.3 300.6,668.7 301.9,670.5 C303.1,672.3 304.5,681.8 306.3,685.8 C308.2,689.9 312.1,698.6 314.1,697.7 C316.1,696.8 318.2,683.5 319.6,679.7 C321.1,675.9 322.3,671.8 323.7,672.6 C325.1,673.3 327.6,684.5 328.8,684.8 C330.1,685.1 330.5,677.2 331.9,674.6 C333.3,672.0 336.3,665.9 338.0,667.4 C339.7,669.0 341.1,680.4 343.1,684.8 C345.1,689.3 348.9,695.9 351.3,697.1 C353.8,698.3 357.0,693.0 359.5,693.0 C361.9,693.0 365.5,697.2 367.7,697.1 C369.8,696.9 372.0,692.3 373.8,692.0 C375.6,691.7 377.5,693.1 379.9,695.0 C382.4,697.0 387.7,704.5 390.1,704.8 C392.6,705.2 394.7,698.6 396.3,697.1 C397.8,695.5 399.0,695.0 400.4,694.4 C401.7,693.8 403.8,693.7 405.5,693.0 C407.2,692.3 409.6,688.7 411.6,689.9 C413.6,691.2 417.5,699.1 418.8,701.2 C420.0,703.2 418.6,702.4 420.0,703.8 C421.4,705.3 426.0,710.5 428.2,711.0 C430.3,711.4 432.2,707.4 434.3,706.9 C436.5,706.3 440.2,707.6 442.5,707.3 C444.8,707.0 448.3,705.4 449.6,704.8 C451.0,704.3 450.3,703.5 451.3,703.8 C452.2,704.1 454.0,705.7 455.8,706.9 C457.5,708.1 460.9,712.0 462.9,712.0 C464.9,712.0 467.2,707.8 469.0,706.9 C470.9,706.0 473.9,705.4 475.2,705.9 C476.5,706.3 477.3,710.7 477.8,710.0 C478.3,709.2 477.9,702.5 478.5,701.2 C479.0,699.8 480.1,701.1 481.3,701.2 C482.5,701.2 485.5,700.1 486.4,701.6 C487.3,703.0 486.5,709.7 487.2,711.0 C488.0,712.2 490.4,711.0 491.5,710.0 C492.6,708.9 493.1,704.9 494.6,704.2 C496.1,703.5 499.5,705.6 501.7,705.3 C504.0,704.9 507.8,701.9 509.9,702.2 C512.1,702.4 514.5,708.1 516.1,706.9 C517.6,705.7 519.2,697.2 520.1,694.0 C521.1,690.9 521.3,687.7 522.2,685.8 C523.1,684.0 524.9,680.5 526.3,681.7 C527.7,683.0 529.7,691.8 531.4,694.4 C533.1,697.1 535.8,699.3 537.5,699.5 C539.2,699.8 541.5,696.7 542.6,696.1 C543.7,695.4 543.7,695.5 545.0,695.0 C546.3,694.6 549.6,695.3 551.1,693.0 C552.7,690.7 554.0,682.3 555.2,679.7 C556.4,677.1 557.8,674.5 559.3,675.6 C560.8,676.7 563.3,683.9 565.4,686.9 C567.6,689.8 571.2,694.6 573.6,695.0 C576.1,695.5 579.6,691.6 581.8,689.9 C583.9,688.2 586.1,685.5 587.9,683.8 C589.8,682.1 592.2,678.8 594.0,678.7 C595.9,678.5 598.3,682.0 600.2,682.8 C602.0,683.5 604.2,684.1 606.3,683.8 C608.5,683.5 612.3,681.2 614.5,680.7 C616.6,680.3 618.8,681.5 620.6,680.7 C622.5,680.0 624.9,676.8 626.7,675.6 C628.6,674.4 631.2,674.1 632.9,672.6 C634.6,671.0 636.2,666.4 638.0,665.4 C639.8,664.4 643.5,665.6 645.1,665.8 C646.8,666.1 648.0,665.6 649.2,667.0 C650.5,668.5 652.0,675.9 653.3,675.6 C654.6,675.4 657.3,666.9 658.0,665.4 L658.0,750.9Z" fill="#68a9d0"/>
<path d="M171.2,750.9 L171.2,690.9 C171.5,690.6 172.1,688.9 172.7,688.9 C173.3,688.9 174.5,690.8 175.3,690.9 C176.2,691.1 176.9,689.8 178.4,689.9 C179.9,690.1 183.7,690.7 185.5,692.0 C187.4,693.2 188.7,696.3 190.7,698.1 C192.6,699.9 196.4,702.4 198.8,704.2 C201.3,706.1 205.2,709.9 207.0,710.4 C208.8,710.8 209.9,707.9 211.1,707.3 C212.3,706.7 214.1,706.9 215.2,706.3 C216.3,705.7 217.0,703.7 218.2,703.2 C219.5,702.7 222.0,702.6 223.4,703.2 C224.7,703.8 226.2,706.2 227.4,707.3 C228.7,708.4 230.0,709.9 231.5,710.4 C233.1,710.8 235.8,710.1 237.7,710.4 C239.5,710.7 242.0,711.8 243.8,712.4 C245.6,713.0 248.2,714.0 249.9,714.4 C251.6,714.9 253.2,715.7 255.0,715.5 C256.9,715.3 259.9,713.1 262.2,713.0 C264.5,712.9 267.6,714.2 270.4,714.9 C273.1,715.5 278.3,717.6 280.6,717.5 C282.9,717.4 284.2,714.7 285.7,714.0 C287.2,713.4 289.4,714.3 290.8,713.4 C292.2,712.6 295.0,708.3 294.9,708.3 C294.8,708.3 290.1,713.4 290.0,713.4 C289.9,713.4 292.9,709.5 294.1,708.3 C295.3,707.2 297.0,706.4 298.2,705.9 C299.3,705.3 300.6,703.5 301.9,704.6 C303.1,705.8 304.5,711.3 306.3,713.4 C308.2,715.6 312.1,719.6 314.1,718.9 C316.1,718.3 318.2,711.2 319.6,709.3 C321.1,707.5 322.3,706.2 323.7,706.7 C325.1,707.1 327.6,712.4 328.8,712.4 C330.1,712.4 330.5,708.1 331.9,706.7 C333.3,705.3 336.3,702.4 338.0,703.2 C339.7,704.1 341.1,710.1 343.1,712.4 C345.1,714.7 348.9,717.9 351.3,718.5 C353.8,719.2 357.0,716.9 359.5,716.9 C361.9,716.9 365.5,718.7 367.7,718.5 C369.8,718.4 372.0,716.1 373.8,716.1 C375.6,716.0 377.5,717.1 379.9,718.1 C382.4,719.2 387.7,723.2 390.1,723.2 C392.6,723.3 394.7,719.4 396.3,718.5 C397.8,717.7 399.0,717.8 400.4,717.5 C401.7,717.3 403.8,717.1 405.5,716.9 C407.2,716.7 409.6,715.1 411.6,715.9 C413.6,716.7 417.5,721.2 418.8,722.2 C420.0,723.2 418.6,721.9 420.0,722.6 C421.4,723.4 426.0,726.8 428.2,727.1 C430.3,727.4 432.2,725.0 434.3,724.7 C436.5,724.3 440.2,724.8 442.5,724.7 C444.8,724.5 448.3,724.0 449.6,723.6 C451.0,723.3 450.3,722.5 451.3,722.6 C452.2,722.7 454.0,723.5 455.8,724.3 C457.5,725.0 460.9,727.7 462.9,727.7 C464.9,727.8 467.2,725.2 469.0,724.7 C470.9,724.1 473.9,723.7 475.2,724.1 C476.5,724.4 477.3,727.1 477.8,726.7 C478.3,726.3 477.9,722.4 478.5,721.6 C479.0,720.8 480.1,721.5 481.3,721.6 C482.5,721.7 485.5,721.2 486.4,722.0 C487.3,722.8 486.5,726.5 487.2,727.1 C488.0,727.8 490.4,726.9 491.5,726.3 C492.6,725.7 493.1,723.7 494.6,723.2 C496.1,722.8 499.5,723.4 501.7,723.2 C504.0,723.1 507.8,722.1 509.9,722.2 C512.1,722.4 514.5,725.0 516.1,724.3 C517.6,723.6 519.2,719.1 520.1,717.5 C521.1,715.9 521.3,714.3 522.2,713.4 C523.1,712.5 524.9,710.7 526.3,711.4 C527.7,712.1 529.7,716.8 531.4,718.1 C533.1,719.4 535.8,720.2 537.5,720.2 C539.2,720.2 541.5,718.5 542.6,718.1 C543.7,717.7 543.7,717.8 545.0,717.5 C546.3,717.3 549.6,717.7 551.1,716.5 C552.7,715.3 554.0,710.7 555.2,709.3 C556.4,708.0 557.8,706.6 559.3,707.3 C560.8,708.0 563.3,712.5 565.4,714.0 C567.6,715.6 571.2,717.4 573.6,717.5 C576.1,717.6 579.6,715.8 581.8,714.9 C583.9,713.9 586.1,712.5 587.9,711.4 C589.8,710.3 592.2,707.9 594.0,707.7 C595.9,707.6 598.3,709.9 600.2,710.4 C602.0,710.9 604.2,711.2 606.3,711.0 C608.5,710.8 612.3,709.2 614.5,708.9 C616.6,708.6 618.8,709.3 620.6,708.9 C622.5,708.5 624.9,707.0 626.7,706.3 C628.6,705.6 631.2,705.2 632.9,704.2 C634.6,703.2 636.2,700.2 638.0,699.5 C639.8,698.8 643.5,699.4 645.1,699.5 C646.8,699.7 648.0,699.7 649.2,700.6 C650.5,701.4 652.0,705.5 653.3,705.3 C654.6,705.0 657.3,700.0 658.0,699.1 L658.0,750.9Z" fill="#426f9c"/>
<rect class="ax" x="147.3" y="581.1" width="535.0999999999999" height="178.10000000000002"/>
<line class="ax" x1="147.3" y1="589.0" x2="155.10000000000002" y2="589.0"/>
<text class="tk" x="134.9" y="596.9" text-anchor="end">20000</text>
<line class="ax" x1="147.3" y1="629.55" x2="155.10000000000002" y2="629.55"/>
<text class="tk" x="134.9" y="637.4" text-anchor="end">15000</text>
<line class="ax" x1="147.3" y1="670.1" x2="155.10000000000002" y2="670.1"/>
<text class="tk" x="134.9" y="678.0" text-anchor="end">10000</text>
<line class="ax" x1="147.3" y1="710.65" x2="155.10000000000002" y2="710.65"/>
<text class="tk" x="134.9" y="718.5" text-anchor="end">5000</text>
<line class="ax" x1="147.3" y1="751.2" x2="155.10000000000002" y2="751.2"/>
<text class="tk" x="134.9" y="759.1" text-anchor="end">0</text>
<line class="ax" x1="167.7" y1="759.2" x2="167.7" y2="751.4000000000001"/>
<text class="tk" transform="translate(178.3,782.5) rotate(-45)" text-anchor="end">January</text>
<line class="ax" x1="208.1" y1="759.2" x2="208.1" y2="751.4000000000001"/>
<text class="tk" transform="translate(218.7,782.5) rotate(-45)" text-anchor="end">February</text>
<line class="ax" x1="244.5" y1="759.2" x2="244.5" y2="751.4000000000001"/>
<text class="tk" transform="translate(255.1,782.5) rotate(-45)" text-anchor="end">March</text>
<line class="ax" x1="284.9" y1="759.2" x2="284.9" y2="751.4000000000001"/>
<text class="tk" transform="translate(295.5,782.5) rotate(-45)" text-anchor="end">April</text>
<line class="ax" x1="324.0" y1="759.2" x2="324.0" y2="751.4000000000001"/>
<text class="tk" transform="translate(334.6,782.5) rotate(-45)" text-anchor="end">May</text>
<line class="ax" x1="364.4" y1="759.2" x2="364.4" y2="751.4000000000001"/>
<text class="tk" transform="translate(375.0,782.5) rotate(-45)" text-anchor="end">June</text>
<line class="ax" x1="403.5" y1="759.2" x2="403.5" y2="751.4000000000001"/>
<text class="tk" transform="translate(414.1,782.5) rotate(-45)" text-anchor="end">July</text>
<line class="ax" x1="443.8" y1="759.2" x2="443.8" y2="751.4000000000001"/>
<text class="tk" transform="translate(454.4,782.5) rotate(-45)" text-anchor="end">August</text>
<line class="ax" x1="484.2" y1="759.2" x2="484.2" y2="751.4000000000001"/>
<text class="tk" transform="translate(494.8,782.5) rotate(-45)" text-anchor="end">September</text>
<line class="ax" x1="523.3" y1="759.2" x2="523.3" y2="751.4000000000001"/>
<text class="tk" transform="translate(533.9,782.5) rotate(-45)" text-anchor="end">October</text>
<line class="ax" x1="563.7" y1="759.2" x2="563.7" y2="751.4000000000001"/>
<text class="tk" transform="translate(574.3,782.5) rotate(-45)" text-anchor="end">November</text>
<line class="ax" x1="602.7" y1="759.2" x2="602.7" y2="751.4000000000001"/>
<text class="tk" transform="translate(613.3,782.5) rotate(-45)" text-anchor="end">December</text>
<line class="ax" x1="643.1" y1="759.2" x2="643.1" y2="751.4000000000001"/>
<text class="tk" transform="translate(653.7,782.5) rotate(-45)" text-anchor="end">January</text>
<rect x="172.9" y="585.8" width="13.1" height="12.6" fill="#b927ff" stroke="#000" stroke-width="1.2"/>
<text class="lg" x="190.3" y="597.6">Channel</text>
<text class="lg" x="274.6" y="597.6">Wetland:</text>
<rect x="275.9" y="603.6" width="12.6" height="12.6" fill="#abdcf6" stroke="#000" stroke-width="1.2"/>
<text class="lg" x="291.8" y="615.5">US</text>
<rect x="275.9" y="622.6" width="12.6" height="12.6" fill="#68a9d0" stroke="#000" stroke-width="1.2"/>
<text class="lg" x="291.8" y="634.5">MS</text>
<rect x="275.9" y="641.5" width="12.6" height="12.6" fill="#426f9c" stroke="#000" stroke-width="1.2"/>
<text class="lg" x="291.8" y="653.4">DS</text>
<text class="pl" x="677.8" y="606.8" text-anchor="end">c)</text>
<text class="tk" style="font-size:21px" transform="translate(17.4,671) rotate(-90)" text-anchor="middle">Water surface area</text>
<text class="tk" style="font-size:21px" transform="translate(43.5,670.5) rotate(-90)" text-anchor="middle">(m<tspan dy="-8.5" style="font-size:14px">2</tspan><tspan dy="8.5">)</tspan></text>
<line x1="172.5" y1="864" x2="638" y2="864" stroke="#000" stroke-width="1.4"/>
<text class="tk" x="402" y="891.8" text-anchor="middle">2022</text>
</svg></body></html>
